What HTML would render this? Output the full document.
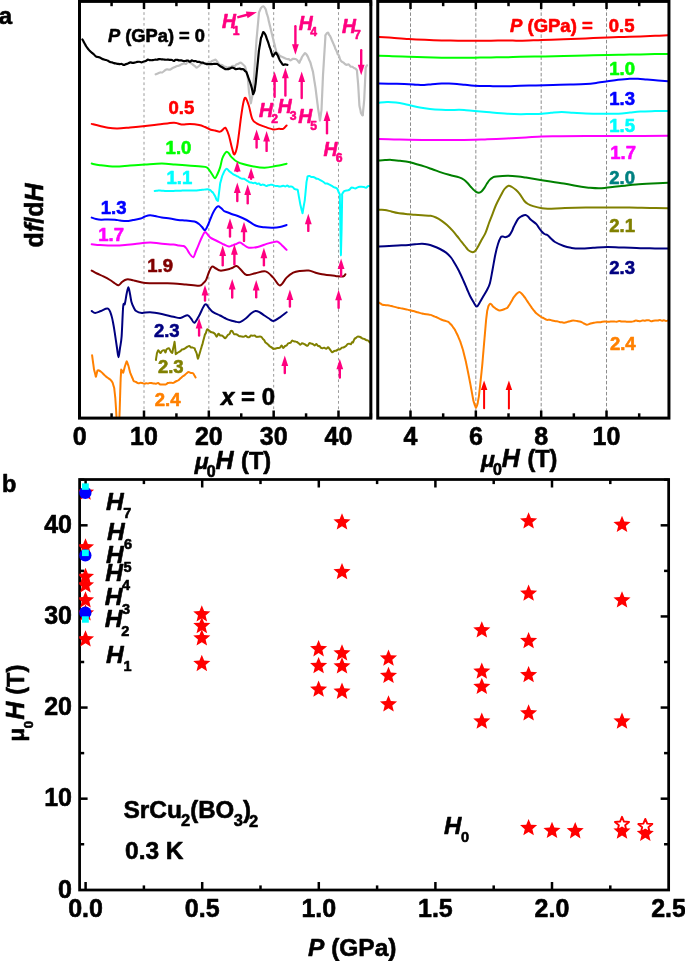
<!DOCTYPE html>
<html><head><meta charset="utf-8"><style>
html,body{margin:0;padding:0;background:#fff;overflow:hidden}
svg{display:block;font-family:"Liberation Sans",sans-serif;will-change:transform}
</style></head><body>
<svg width="685" height="961" viewBox="0 0 685 961">
<line x1="144.0" y1="1.4" x2="144.0" y2="418.1" stroke="#9a9a9a" stroke-width="1.0" stroke-dasharray="2.7 2.7"/>
<line x1="208.82999999999998" y1="1.4" x2="208.82999999999998" y2="418.1" stroke="#9a9a9a" stroke-width="1.0" stroke-dasharray="2.7 2.7"/>
<line x1="273.65999999999997" y1="1.4" x2="273.65999999999997" y2="418.1" stroke="#9a9a9a" stroke-width="1.0" stroke-dasharray="2.7 2.7"/>
<line x1="338.49" y1="1.4" x2="338.49" y2="418.1" stroke="#9a9a9a" stroke-width="1.0" stroke-dasharray="2.7 2.7"/>
<line x1="111.58500000000001" y1="418.1" x2="111.58500000000001" y2="413.3" stroke="#000" stroke-width="2.5" />
<line x1="111.58500000000001" y1="1.4" x2="111.58500000000001" y2="6.199999999999999" stroke="#000" stroke-width="2.5" />
<line x1="144.0" y1="418.1" x2="144.0" y2="410.5" stroke="#000" stroke-width="2.5" />
<line x1="144.0" y1="1.4" x2="144.0" y2="9.0" stroke="#000" stroke-width="2.5" />
<line x1="176.415" y1="418.1" x2="176.415" y2="413.3" stroke="#000" stroke-width="2.5" />
<line x1="176.415" y1="1.4" x2="176.415" y2="6.199999999999999" stroke="#000" stroke-width="2.5" />
<line x1="208.82999999999998" y1="418.1" x2="208.82999999999998" y2="410.5" stroke="#000" stroke-width="2.5" />
<line x1="208.82999999999998" y1="1.4" x2="208.82999999999998" y2="9.0" stroke="#000" stroke-width="2.5" />
<line x1="241.245" y1="418.1" x2="241.245" y2="413.3" stroke="#000" stroke-width="2.5" />
<line x1="241.245" y1="1.4" x2="241.245" y2="6.199999999999999" stroke="#000" stroke-width="2.5" />
<line x1="273.65999999999997" y1="418.1" x2="273.65999999999997" y2="410.5" stroke="#000" stroke-width="2.5" />
<line x1="273.65999999999997" y1="1.4" x2="273.65999999999997" y2="9.0" stroke="#000" stroke-width="2.5" />
<line x1="306.075" y1="418.1" x2="306.075" y2="413.3" stroke="#000" stroke-width="2.5" />
<line x1="306.075" y1="1.4" x2="306.075" y2="6.199999999999999" stroke="#000" stroke-width="2.5" />
<line x1="338.49" y1="418.1" x2="338.49" y2="410.5" stroke="#000" stroke-width="2.5" />
<line x1="338.49" y1="1.4" x2="338.49" y2="9.0" stroke="#000" stroke-width="2.5" />
<line x1="370.905" y1="418.1" x2="370.905" y2="413.3" stroke="#000" stroke-width="2.5" />
<line x1="370.905" y1="1.4" x2="370.905" y2="6.199999999999999" stroke="#000" stroke-width="2.5" />
<line x1="410.5" y1="1.4" x2="410.5" y2="418.1" stroke="#8c8c8c" stroke-width="1" stroke-dasharray="3.5 2"/>
<line x1="475.84000000000003" y1="1.4" x2="475.84000000000003" y2="418.1" stroke="#8c8c8c" stroke-width="1" stroke-dasharray="3.5 2"/>
<line x1="541.1800000000001" y1="1.4" x2="541.1800000000001" y2="418.1" stroke="#8c8c8c" stroke-width="1" stroke-dasharray="3.5 2"/>
<line x1="606.52" y1="1.4" x2="606.52" y2="418.1" stroke="#8c8c8c" stroke-width="1" stroke-dasharray="3.5 2"/>
<line x1="410.5" y1="418.1" x2="410.5" y2="410.5" stroke="#000" stroke-width="2.5" />
<line x1="410.5" y1="1.4" x2="410.5" y2="9.0" stroke="#000" stroke-width="2.5" />
<line x1="443.17" y1="418.1" x2="443.17" y2="413.3" stroke="#000" stroke-width="2.5" />
<line x1="443.17" y1="1.4" x2="443.17" y2="6.199999999999999" stroke="#000" stroke-width="2.5" />
<line x1="475.84000000000003" y1="418.1" x2="475.84000000000003" y2="410.5" stroke="#000" stroke-width="2.5" />
<line x1="475.84000000000003" y1="1.4" x2="475.84000000000003" y2="9.0" stroke="#000" stroke-width="2.5" />
<line x1="508.51" y1="418.1" x2="508.51" y2="413.3" stroke="#000" stroke-width="2.5" />
<line x1="508.51" y1="1.4" x2="508.51" y2="6.199999999999999" stroke="#000" stroke-width="2.5" />
<line x1="541.1800000000001" y1="418.1" x2="541.1800000000001" y2="410.5" stroke="#000" stroke-width="2.5" />
<line x1="541.1800000000001" y1="1.4" x2="541.1800000000001" y2="9.0" stroke="#000" stroke-width="2.5" />
<line x1="573.85" y1="418.1" x2="573.85" y2="413.3" stroke="#000" stroke-width="2.5" />
<line x1="573.85" y1="1.4" x2="573.85" y2="6.199999999999999" stroke="#000" stroke-width="2.5" />
<line x1="606.52" y1="418.1" x2="606.52" y2="410.5" stroke="#000" stroke-width="2.5" />
<line x1="606.52" y1="1.4" x2="606.52" y2="9.0" stroke="#000" stroke-width="2.5" />
<line x1="639.19" y1="418.1" x2="639.19" y2="413.3" stroke="#000" stroke-width="2.5" />
<line x1="639.19" y1="1.4" x2="639.19" y2="6.199999999999999" stroke="#000" stroke-width="2.5" />
<line x1="85.6" y1="890.0" x2="85.6" y2="882.0" stroke="#000" stroke-width="2.5" />
<line x1="85.6" y1="479.5" x2="85.6" y2="487.5" stroke="#000" stroke-width="2.5" />
<line x1="143.89999999999998" y1="890.0" x2="143.89999999999998" y2="885.4" stroke="#000" stroke-width="2.5" />
<line x1="143.89999999999998" y1="479.5" x2="143.89999999999998" y2="484.1" stroke="#000" stroke-width="2.5" />
<line x1="202.2" y1="890.0" x2="202.2" y2="882.0" stroke="#000" stroke-width="2.5" />
<line x1="202.2" y1="479.5" x2="202.2" y2="487.5" stroke="#000" stroke-width="2.5" />
<line x1="260.5" y1="890.0" x2="260.5" y2="885.4" stroke="#000" stroke-width="2.5" />
<line x1="260.5" y1="479.5" x2="260.5" y2="484.1" stroke="#000" stroke-width="2.5" />
<line x1="318.79999999999995" y1="890.0" x2="318.79999999999995" y2="882.0" stroke="#000" stroke-width="2.5" />
<line x1="318.79999999999995" y1="479.5" x2="318.79999999999995" y2="487.5" stroke="#000" stroke-width="2.5" />
<line x1="377.1" y1="890.0" x2="377.1" y2="885.4" stroke="#000" stroke-width="2.5" />
<line x1="377.1" y1="479.5" x2="377.1" y2="484.1" stroke="#000" stroke-width="2.5" />
<line x1="435.4" y1="890.0" x2="435.4" y2="882.0" stroke="#000" stroke-width="2.5" />
<line x1="435.4" y1="479.5" x2="435.4" y2="487.5" stroke="#000" stroke-width="2.5" />
<line x1="493.69999999999993" y1="890.0" x2="493.69999999999993" y2="885.4" stroke="#000" stroke-width="2.5" />
<line x1="493.69999999999993" y1="479.5" x2="493.69999999999993" y2="484.1" stroke="#000" stroke-width="2.5" />
<line x1="552.0" y1="890.0" x2="552.0" y2="882.0" stroke="#000" stroke-width="2.5" />
<line x1="552.0" y1="479.5" x2="552.0" y2="487.5" stroke="#000" stroke-width="2.5" />
<line x1="610.3" y1="890.0" x2="610.3" y2="885.4" stroke="#000" stroke-width="2.5" />
<line x1="610.3" y1="479.5" x2="610.3" y2="484.1" stroke="#000" stroke-width="2.5" />
<line x1="79.6" y1="844.24" x2="84.19999999999999" y2="844.24" stroke="#000" stroke-width="2.5" />
<line x1="668.65" y1="844.24" x2="664.05" y2="844.24" stroke="#000" stroke-width="2.5" />
<line x1="79.6" y1="798.68" x2="87.6" y2="798.68" stroke="#000" stroke-width="2.5" />
<line x1="668.65" y1="798.68" x2="660.65" y2="798.68" stroke="#000" stroke-width="2.5" />
<line x1="79.6" y1="753.1199999999999" x2="84.19999999999999" y2="753.1199999999999" stroke="#000" stroke-width="2.5" />
<line x1="668.65" y1="753.1199999999999" x2="664.05" y2="753.1199999999999" stroke="#000" stroke-width="2.5" />
<line x1="79.6" y1="707.56" x2="87.6" y2="707.56" stroke="#000" stroke-width="2.5" />
<line x1="668.65" y1="707.56" x2="660.65" y2="707.56" stroke="#000" stroke-width="2.5" />
<line x1="79.6" y1="662.0" x2="84.19999999999999" y2="662.0" stroke="#000" stroke-width="2.5" />
<line x1="668.65" y1="662.0" x2="664.05" y2="662.0" stroke="#000" stroke-width="2.5" />
<line x1="79.6" y1="616.4399999999999" x2="87.6" y2="616.4399999999999" stroke="#000" stroke-width="2.5" />
<line x1="668.65" y1="616.4399999999999" x2="660.65" y2="616.4399999999999" stroke="#000" stroke-width="2.5" />
<line x1="79.6" y1="570.8799999999999" x2="84.19999999999999" y2="570.8799999999999" stroke="#000" stroke-width="2.5" />
<line x1="668.65" y1="570.8799999999999" x2="664.05" y2="570.8799999999999" stroke="#000" stroke-width="2.5" />
<line x1="79.6" y1="525.3199999999999" x2="87.6" y2="525.3199999999999" stroke="#000" stroke-width="2.5" />
<line x1="668.65" y1="525.3199999999999" x2="660.65" y2="525.3199999999999" stroke="#000" stroke-width="2.5" />
<line x1="79.6" y1="479.75999999999993" x2="84.19999999999999" y2="479.75999999999993" stroke="#000" stroke-width="2.5" />
<line x1="668.65" y1="479.75999999999993" x2="664.05" y2="479.75999999999993" stroke="#000" stroke-width="2.5" />
<defs><clipPath id="cal"><rect x="79.5" y="1.4" width="291.35" height="416.7"/></clipPath><clipPath id="car"><rect x="377.75" y="1.4" width="291.2" height="416.7"/></clipPath></defs>
<g clip-path="url(#cal)">
<path d="M155.70,74.30 C156.06,74.16 157.13,73.76 157.85,73.46 C158.57,73.16 159.26,72.67 160.00,72.50 C160.74,72.33 161.53,72.71 162.30,72.41 C163.07,72.11 163.93,71.19 164.60,70.70 C165.27,70.21 165.73,69.69 166.30,69.49 C166.87,69.29 167.39,69.47 168.00,69.50 C168.61,69.53 169.30,69.84 169.95,69.67 C170.60,69.51 171.06,68.95 171.90,68.50 C172.74,68.05 174.13,67.40 175.00,67.00 C175.87,66.60 176.40,66.33 177.10,66.08 C177.80,65.83 178.45,65.79 179.20,65.50 C179.95,65.21 180.80,64.66 181.60,64.33 C182.40,64.00 183.27,63.57 184.00,63.50 C184.73,63.43 185.33,64.20 186.00,63.93 C186.67,63.67 187.25,62.06 188.00,61.90 C188.75,61.74 189.78,62.63 190.50,63.00 C191.22,63.37 191.76,63.70 192.30,64.10 C192.84,64.50 193.28,64.99 193.77,65.39 C194.26,65.78 194.74,66.09 195.23,66.48 C195.72,66.86 196.07,67.78 196.70,67.70 C197.33,67.62 198.27,66.60 199.00,66.00 C199.73,65.40 200.27,64.52 201.10,64.10 C201.93,63.68 203.15,63.59 204.00,63.50 C204.85,63.41 205.47,63.70 206.20,63.55 C206.93,63.40 207.73,62.77 208.40,62.60 C209.07,62.43 209.60,62.79 210.20,62.52 C210.80,62.25 211.39,61.37 212.00,61.00 C212.61,60.63 213.23,60.55 213.85,60.33 C214.47,60.11 215.09,59.42 215.70,59.70 C216.31,59.98 216.99,61.34 217.50,62.00 C218.01,62.66 218.33,63.21 218.75,63.67 C219.17,64.14 219.46,64.58 220.00,64.80 C220.54,65.02 221.33,64.74 222.00,65.02 C222.67,65.31 223.38,66.19 224.00,66.50 C224.62,66.81 225.13,66.66 225.70,66.86 C226.27,67.06 226.82,67.67 227.40,67.70 C227.98,67.73 228.60,67.17 229.20,67.05 C229.80,66.93 230.39,67.22 231.00,67.00 C231.61,66.78 232.23,65.85 232.85,65.73 C233.47,65.62 234.12,66.54 234.70,66.30 C235.28,66.06 235.80,64.67 236.35,64.28 C236.90,63.90 237.31,64.28 238.00,64.00 C238.69,63.72 239.75,62.60 240.50,62.60 C241.25,62.60 241.77,63.38 242.50,64.00 C243.23,64.62 244.41,65.65 244.90,66.30 C245.39,66.95 245.26,67.27 245.43,67.89 C245.61,68.52 245.79,69.37 245.97,70.05 C246.14,70.74 246.34,71.35 246.50,72.00 C246.66,72.65 246.79,73.32 246.93,73.97 C247.08,74.63 247.22,75.28 247.37,75.95 C247.51,76.62 247.70,77.32 247.80,78.00 C247.90,78.68 247.91,79.35 247.97,80.00 C248.03,80.66 248.09,81.25 248.14,81.92 C248.20,82.59 248.26,83.31 248.31,84.00 C248.37,84.68 248.43,85.34 248.49,86.01 C248.54,86.69 248.60,87.39 248.66,88.04 C248.71,88.70 248.77,89.29 248.83,89.95 C248.89,90.61 248.92,91.35 249.00,92.00 C249.08,92.65 249.20,93.27 249.30,93.87 C249.40,94.48 249.50,94.98 249.60,95.62 C249.70,96.25 249.80,97.06 249.90,97.70 C250.00,98.33 250.10,98.81 250.20,99.43 C250.30,100.05 250.40,100.75 250.50,101.43 C250.60,102.11 250.68,103.48 250.80,103.50 C250.92,103.52 251.08,102.28 251.23,101.53 C251.37,100.77 251.51,99.66 251.65,98.95 C251.79,98.23 251.93,97.89 252.07,97.23 C252.22,96.58 252.40,95.67 252.50,95.00 C252.60,94.33 252.60,93.82 252.65,93.22 C252.70,92.62 252.75,91.98 252.80,91.38 C252.85,90.78 252.90,90.22 252.95,89.63 C253.00,89.03 253.05,88.42 253.10,87.83 C253.15,87.24 253.20,86.67 253.25,86.06 C253.30,85.45 253.35,84.80 253.40,84.19 C253.45,83.57 253.50,82.97 253.55,82.37 C253.60,81.76 253.65,81.17 253.70,80.56 C253.75,79.96 253.80,79.34 253.85,78.74 C253.90,78.15 253.95,77.60 254.00,77.00 C254.05,76.40 254.08,75.77 254.12,75.15 C254.17,74.53 254.21,73.87 254.25,73.26 C254.29,72.66 254.33,72.13 254.38,71.50 C254.42,70.88 254.46,70.15 254.50,69.51 C254.54,68.88 254.58,68.31 254.62,67.70 C254.67,67.09 254.71,66.48 254.75,65.86 C254.79,65.23 254.83,64.55 254.88,63.95 C254.92,63.36 254.96,62.91 255.00,62.29 C255.04,61.67 255.08,60.87 255.12,60.24 C255.17,59.60 255.21,59.09 255.25,58.49 C255.29,57.88 255.33,57.23 255.38,56.63 C255.42,56.02 255.46,55.51 255.50,54.88 C255.54,54.25 255.58,53.48 255.62,52.86 C255.67,52.24 255.71,51.76 255.75,51.15 C255.79,50.54 255.83,49.84 255.88,49.22 C255.92,48.59 255.96,48.01 256.00,47.39 C256.04,46.78 256.08,46.13 256.12,45.52 C256.17,44.91 256.21,44.35 256.25,43.73 C256.29,43.11 256.33,42.42 256.38,41.80 C256.42,41.17 256.45,40.60 256.50,40.00 C256.55,39.40 256.61,38.77 256.67,38.17 C256.72,37.56 256.78,36.96 256.83,36.37 C256.89,35.78 256.94,35.28 257.00,34.64 C257.06,34.00 257.11,33.15 257.17,32.54 C257.22,31.93 257.28,31.54 257.33,30.96 C257.39,30.39 257.44,29.73 257.50,29.10 C257.56,28.47 257.61,27.80 257.67,27.18 C257.72,26.57 257.78,26.01 257.83,25.41 C257.89,24.80 257.94,24.13 258.00,23.53 C258.06,22.94 258.11,22.44 258.17,21.84 C258.22,21.24 258.28,20.55 258.33,19.92 C258.39,19.29 258.44,18.68 258.50,18.07 C258.56,17.45 258.61,16.85 258.67,16.24 C258.72,15.63 258.78,15.02 258.83,14.41 C258.89,13.81 258.81,13.29 259.00,12.60 C259.19,11.91 259.67,11.02 260.00,10.25 C260.33,9.48 260.45,8.66 261.00,8.00 C261.55,7.34 262.55,6.13 263.30,6.30 C264.05,6.47 265.03,8.25 265.50,9.00 C265.97,9.75 265.90,10.09 266.10,10.82 C266.30,11.56 266.50,12.72 266.70,13.41 C266.90,14.11 267.12,14.48 267.30,15.00 C267.48,15.52 267.60,16.00 267.75,16.51 C267.90,17.03 268.05,17.40 268.20,18.06 C268.35,18.73 268.50,19.77 268.65,20.48 C268.80,21.19 268.95,21.68 269.10,22.31 C269.25,22.93 269.40,23.61 269.55,24.23 C269.70,24.84 269.85,25.39 270.00,26.00 C270.15,26.61 270.31,27.27 270.47,27.92 C270.62,28.56 270.78,29.21 270.93,29.88 C271.09,30.54 271.24,31.22 271.40,31.90 C271.56,32.58 271.71,33.33 271.87,33.96 C272.02,34.59 272.18,35.05 272.33,35.68 C272.49,36.30 272.64,37.06 272.80,37.70 C272.96,38.34 273.12,38.83 273.28,39.51 C273.43,40.19 273.59,41.13 273.75,41.78 C273.91,42.43 274.07,42.87 274.23,43.42 C274.38,43.96 274.54,44.35 274.70,45.03 C274.86,45.71 275.02,46.80 275.18,47.47 C275.33,48.15 275.49,48.54 275.65,49.08 C275.81,49.62 275.97,50.12 276.12,50.72 C276.28,51.33 276.24,52.19 276.60,52.70 C276.96,53.21 277.73,53.21 278.30,53.76 C278.87,54.31 279.23,55.43 280.00,56.00 C280.77,56.57 282.07,56.82 282.90,57.20 C283.72,57.58 284.27,57.99 284.95,58.29 C285.63,58.59 286.38,58.86 287.00,59.00 C287.62,59.14 288.13,58.89 288.70,59.11 C289.27,59.32 289.70,60.33 290.40,60.30 C291.10,60.27 292.07,59.15 292.90,58.93 C293.73,58.72 294.67,58.78 295.40,59.00 C296.13,59.22 296.67,59.63 297.30,60.26 C297.93,60.89 298.73,62.72 299.20,62.80 C299.67,62.88 299.82,61.30 300.13,60.71 C300.44,60.12 300.76,59.89 301.07,59.27 C301.38,58.65 301.59,57.73 302.00,57.00 C302.41,56.27 303.00,55.55 303.50,54.91 C304.00,54.28 304.50,53.27 305.00,53.20 C305.50,53.13 306.00,53.84 306.50,54.47 C307.00,55.10 307.61,56.23 308.00,57.00 C308.39,57.77 308.56,58.47 308.83,59.12 C309.11,59.77 309.39,60.27 309.67,60.88 C309.94,61.50 310.28,62.15 310.50,62.80 C310.72,63.45 310.83,64.14 311.00,64.79 C311.17,65.45 311.33,66.12 311.50,66.70 C311.67,67.28 311.83,67.72 312.00,68.29 C312.17,68.86 312.33,69.51 312.50,70.13 C312.67,70.75 312.86,71.36 313.00,72.00 C313.14,72.64 313.21,73.34 313.31,73.98 C313.42,74.62 313.52,75.18 313.62,75.85 C313.73,76.53 313.83,77.33 313.94,78.04 C314.04,78.74 314.15,79.45 314.25,80.10 C314.35,80.75 314.46,81.32 314.56,81.96 C314.67,82.59 314.77,83.24 314.88,83.90 C314.98,84.55 315.08,85.22 315.19,85.88 C315.29,86.55 315.41,87.27 315.50,87.90 C315.59,88.53 315.65,89.06 315.73,89.66 C315.80,90.26 315.88,90.87 315.95,91.49 C316.03,92.10 316.11,92.74 316.18,93.35 C316.26,93.96 316.33,94.53 316.41,95.14 C316.48,95.74 316.56,96.40 316.64,97.00 C316.71,97.60 316.79,98.11 316.86,98.73 C316.94,99.35 317.02,100.09 317.09,100.72 C317.17,101.35 317.24,101.93 317.32,102.52 C317.39,103.11 317.47,103.67 317.55,104.25 C317.62,104.82 317.70,105.35 317.77,105.97 C317.85,106.60 317.91,107.36 318.00,108.00 C318.09,108.64 318.19,109.17 318.29,109.78 C318.38,110.40 318.48,111.11 318.57,111.69 C318.67,112.28 318.76,112.71 318.86,113.28 C318.95,113.84 319.05,114.49 319.14,115.09 C319.24,115.69 319.33,116.25 319.43,116.87 C319.52,117.48 319.62,118.18 319.71,118.79 C319.81,119.39 319.90,120.58 320.00,120.50 C320.10,120.42 320.20,118.99 320.30,118.31 C320.40,117.63 320.50,117.09 320.60,116.40 C320.70,115.71 320.80,114.87 320.90,114.17 C321.00,113.47 321.10,112.89 321.20,112.19 C321.30,111.50 321.44,110.67 321.50,110.00 C321.56,109.33 321.55,108.78 321.58,108.17 C321.61,107.56 321.63,106.96 321.66,106.34 C321.68,105.72 321.71,105.09 321.74,104.48 C321.76,103.87 321.79,103.28 321.82,102.67 C321.84,102.07 321.87,101.46 321.89,100.86 C321.92,100.26 321.95,99.67 321.97,99.06 C322.00,98.46 322.03,97.84 322.05,97.22 C322.08,96.61 322.11,95.98 322.13,95.37 C322.16,94.76 322.18,94.18 322.21,93.58 C322.24,92.98 322.26,92.38 322.29,91.77 C322.32,91.16 322.34,90.52 322.37,89.91 C322.39,89.29 322.42,88.68 322.45,88.07 C322.47,87.46 322.50,86.85 322.53,86.25 C322.55,85.64 322.58,85.06 322.61,84.46 C322.63,83.85 322.66,83.24 322.68,82.62 C322.71,82.00 322.74,81.36 322.76,80.75 C322.79,80.14 322.82,79.57 322.84,78.96 C322.87,78.36 322.89,77.72 322.92,77.11 C322.95,76.50 322.97,75.91 323.00,75.30 C323.03,74.69 323.08,74.04 323.11,73.44 C323.15,72.84 323.19,72.30 323.23,71.70 C323.27,71.10 323.30,70.48 323.34,69.85 C323.38,69.23 323.42,68.57 323.45,67.96 C323.49,67.34 323.53,66.77 323.57,66.17 C323.61,65.57 323.64,64.97 323.68,64.36 C323.72,63.74 323.76,63.09 323.80,62.48 C323.83,61.87 323.87,61.28 323.91,60.68 C323.95,60.08 323.98,59.50 324.02,58.88 C324.06,58.26 324.10,57.56 324.14,56.95 C324.17,56.34 324.21,55.81 324.25,55.21 C324.29,54.62 324.33,54.01 324.36,53.40 C324.40,52.80 324.44,52.19 324.48,51.57 C324.52,50.94 324.55,50.27 324.59,49.66 C324.63,49.05 324.67,48.51 324.70,47.90 C324.74,47.30 324.78,46.63 324.82,46.03 C324.86,45.42 324.89,44.86 324.93,44.26 C324.97,43.66 325.01,43.05 325.05,42.44 C325.08,41.82 325.12,41.21 325.16,40.59 C325.20,39.97 325.23,39.34 325.27,38.72 C325.31,38.11 325.35,37.51 325.39,36.90 C325.42,36.30 325.06,35.82 325.50,35.10 C325.94,34.38 327.42,32.67 328.00,32.60 C328.58,32.53 328.67,34.14 329.00,34.69 C329.33,35.24 329.67,35.34 330.00,35.89 C330.33,36.45 330.67,37.23 331.00,38.00 C331.33,38.77 331.67,39.70 332.00,40.49 C332.33,41.27 332.70,42.00 333.00,42.70 C333.30,43.40 333.53,44.09 333.80,44.70 C334.07,45.31 334.33,45.64 334.60,46.34 C334.87,47.05 335.13,48.31 335.40,48.94 C335.67,49.58 335.93,49.65 336.20,50.16 C336.47,50.67 336.75,51.32 337.00,52.00 C337.25,52.68 337.48,53.80 337.72,54.26 C337.96,54.72 338.20,54.41 338.44,54.76 C338.68,55.11 338.92,55.66 339.16,56.36 C339.40,57.05 339.64,58.26 339.88,58.91 C340.12,59.57 340.24,59.81 340.60,60.30 C340.96,60.79 341.58,61.49 342.07,61.87 C342.56,62.26 343.04,62.25 343.53,62.60 C344.02,62.95 344.44,63.63 345.00,64.00 C345.56,64.37 346.24,64.72 346.87,64.80 C347.49,64.87 348.11,64.17 348.73,64.45 C349.36,64.73 350.01,66.10 350.60,66.50 C351.19,66.90 351.73,66.60 352.30,66.85 C352.87,67.10 353.48,67.71 354.00,68.00 C354.52,68.29 354.97,68.20 355.45,68.58 C355.93,68.97 356.63,69.71 356.90,70.30 C357.17,70.89 357.01,71.50 357.06,72.12 C357.12,72.75 357.17,73.41 357.22,74.03 C357.28,74.64 357.33,75.21 357.39,75.82 C357.44,76.42 357.50,77.07 357.55,77.67 C357.60,78.28 357.66,78.84 357.71,79.44 C357.77,80.05 357.82,80.68 357.88,81.30 C357.93,81.92 357.98,82.55 358.04,83.17 C358.09,83.79 358.15,84.39 358.20,85.00 C358.25,85.61 358.27,86.22 358.31,86.84 C358.35,87.47 358.38,88.15 358.42,88.76 C358.45,89.38 358.49,89.91 358.53,90.53 C358.56,91.15 358.60,91.88 358.64,92.50 C358.67,93.11 358.71,93.62 358.75,94.23 C358.78,94.84 358.82,95.55 358.85,96.17 C358.89,96.79 358.93,97.33 358.96,97.95 C359.00,98.57 359.04,99.28 359.07,99.90 C359.11,100.53 359.15,101.09 359.18,101.70 C359.22,102.31 359.25,102.94 359.29,103.56 C359.33,104.18 359.32,104.76 359.40,105.40 C359.48,106.04 359.67,106.79 359.80,107.41 C359.93,108.03 360.07,108.52 360.20,109.11 C360.33,109.70 360.47,110.30 360.60,110.95 C360.73,111.60 360.65,112.24 361.00,113.00 C361.35,113.76 362.39,115.43 362.70,115.50 C363.01,115.57 362.82,114.06 362.89,113.43 C362.95,112.79 363.01,112.34 363.07,111.71 C363.14,111.08 363.20,110.31 363.26,109.64 C363.32,108.97 363.39,108.35 363.45,107.71 C363.51,107.07 363.57,106.43 363.64,105.81 C363.70,105.19 363.76,104.67 363.82,104.01 C363.89,103.34 363.95,102.49 364.01,101.82 C364.07,101.15 364.15,100.62 364.20,100.00 C364.25,99.38 364.26,98.75 364.29,98.11 C364.32,97.48 364.35,96.83 364.38,96.20 C364.41,95.57 364.44,94.97 364.46,94.33 C364.49,93.70 364.52,93.00 364.55,92.36 C364.58,91.73 364.61,91.13 364.64,90.52 C364.67,89.90 364.70,89.28 364.73,88.66 C364.76,88.04 364.79,87.42 364.82,86.79 C364.85,86.16 364.88,85.54 364.91,84.90 C364.94,84.25 364.96,83.56 364.99,82.93 C365.02,82.29 365.05,81.69 365.08,81.06 C365.11,80.43 365.14,79.80 365.17,79.16 C365.20,78.52 365.23,77.86 365.26,77.23 C365.29,76.59 365.32,75.95 365.35,75.33 C365.38,74.71 365.41,74.13 365.44,73.51 C365.46,72.88 365.49,72.23 365.52,71.60 C365.55,70.96 365.58,70.32 365.61,69.69 C365.64,69.06 365.47,68.53 365.70,67.80 C365.93,67.07 366.78,65.72 367.00,65.30" fill="none" stroke="#c0c0c0" stroke-width="2.2" stroke-linejoin="round" stroke-linecap="round" />
<path d="M82.40,39.40 C82.55,39.68 83.00,40.49 83.30,41.06 C83.60,41.63 83.90,42.28 84.20,42.81 C84.50,43.34 84.80,43.71 85.10,44.24 C85.40,44.77 85.63,45.41 86.00,46.00 C86.37,46.59 86.89,47.17 87.33,47.78 C87.78,48.38 88.22,49.09 88.67,49.62 C89.11,50.16 89.44,50.45 90.00,51.00 C90.56,51.55 91.33,52.32 92.00,52.90 C92.67,53.49 93.36,53.92 94.00,54.50 C94.64,55.08 95.23,55.98 95.85,56.40 C96.47,56.81 97.04,56.83 97.70,57.00 C98.36,57.17 99.10,57.14 99.80,57.42 C100.50,57.70 101.20,58.35 101.90,58.70 C102.60,59.04 103.32,59.28 104.00,59.50 C104.68,59.72 105.33,59.79 106.00,60.01 C106.67,60.23 107.33,60.47 108.00,60.81 C108.67,61.14 109.33,61.73 110.00,62.00 C110.67,62.27 111.33,62.23 112.00,62.41 C112.67,62.60 113.33,62.93 114.00,63.11 C114.67,63.29 115.34,63.37 116.00,63.50 C116.66,63.63 117.29,63.78 117.93,63.88 C118.58,63.97 119.22,64.07 119.87,64.09 C120.51,64.11 121.13,63.86 121.80,64.00 C122.47,64.14 123.18,64.93 123.87,64.95 C124.56,64.96 125.24,64.34 125.93,64.10 C126.62,63.86 127.27,63.79 128.00,63.50 C128.73,63.21 129.56,62.47 130.33,62.38 C131.11,62.28 131.89,62.91 132.67,62.93 C133.44,62.95 134.25,62.67 135.00,62.50 C135.75,62.33 136.45,62.07 137.18,61.94 C137.90,61.81 138.62,61.67 139.35,61.74 C140.07,61.82 140.80,62.44 141.52,62.40 C142.25,62.36 142.99,61.74 143.70,61.50 C144.41,61.26 145.10,61.26 145.80,60.96 C146.50,60.65 147.20,59.80 147.90,59.68 C148.60,59.55 149.26,60.11 150.00,60.20 C150.74,60.29 151.56,60.27 152.33,60.19 C153.11,60.11 153.89,59.80 154.67,59.72 C155.44,59.64 156.29,59.80 157.00,59.70 C157.71,59.60 158.27,59.19 158.90,59.11 C159.53,59.04 160.17,59.19 160.80,59.24 C161.43,59.29 162.07,59.31 162.70,59.39 C163.33,59.46 163.97,59.64 164.60,59.70 C165.22,59.76 165.83,59.77 166.45,59.76 C167.07,59.75 167.68,59.60 168.30,59.64 C168.92,59.67 169.53,59.90 170.15,59.96 C170.77,60.02 171.39,59.82 172.00,60.00 C172.61,60.18 173.20,61.05 173.80,61.02 C174.40,60.98 175.00,59.99 175.60,59.80 C176.20,59.61 176.80,59.80 177.40,59.90 C178.00,60.00 178.52,60.31 179.20,60.40 C179.88,60.49 180.71,60.27 181.47,60.41 C182.22,60.54 182.98,61.15 183.73,61.21 C184.49,61.28 185.30,60.91 186.00,60.80 C186.70,60.69 187.30,60.39 187.95,60.55 C188.60,60.70 189.25,61.73 189.90,61.72 C190.55,61.70 191.20,60.53 191.85,60.45 C192.50,60.36 193.17,61.10 193.80,61.20 C194.43,61.30 195.02,60.93 195.62,61.04 C196.23,61.16 196.84,61.74 197.45,61.87 C198.06,62.00 198.67,61.70 199.28,61.83 C199.88,61.95 200.49,62.46 201.10,62.60 C201.71,62.74 202.32,62.51 202.93,62.67 C203.53,62.83 204.14,63.34 204.75,63.57 C205.36,63.81 205.97,63.99 206.57,64.08 C207.18,64.17 207.71,64.10 208.40,64.10 C209.09,64.10 209.93,64.12 210.70,64.11 C211.47,64.09 212.27,64.03 213.00,64.00 C213.73,63.97 214.40,63.90 215.10,63.91 C215.80,63.93 216.38,63.75 217.20,64.10 C218.02,64.45 219.03,65.40 220.00,66.00 C220.97,66.60 222.13,67.19 223.00,67.70 C223.87,68.21 224.47,68.84 225.20,69.09 C225.93,69.34 226.67,69.27 227.40,69.20 C228.13,69.13 228.87,68.89 229.60,68.64 C230.33,68.39 231.11,67.81 231.80,67.70 C232.49,67.59 233.09,67.75 233.73,67.98 C234.38,68.22 235.02,68.94 235.67,69.09 C236.31,69.25 236.96,68.99 237.60,68.90 C238.24,68.81 238.89,68.50 239.53,68.55 C240.18,68.60 240.82,69.07 241.47,69.18 C242.11,69.29 242.83,68.92 243.40,69.20 C243.97,69.48 244.40,70.40 244.90,70.89 C245.40,71.37 246.03,71.57 246.40,72.10 C246.77,72.63 246.87,73.43 247.10,74.06 C247.33,74.70 247.57,75.28 247.80,75.94 C248.03,76.59 248.26,77.31 248.50,78.00 C248.74,78.69 249.00,79.39 249.25,80.06 C249.50,80.73 249.75,81.27 250.00,82.00 C250.25,82.73 250.50,83.59 250.75,84.42 C251.00,85.26 251.30,86.29 251.50,87.00 C251.70,87.71 251.78,88.13 251.93,88.71 C252.07,89.28 252.21,89.80 252.35,90.43 C252.49,91.06 252.63,91.87 252.77,92.48 C252.92,93.09 252.91,94.35 253.20,94.10 C253.49,93.85 254.23,91.86 254.50,91.00 C254.77,90.14 254.70,89.60 254.80,88.93 C254.90,88.27 255.00,87.70 255.10,87.03 C255.20,86.37 255.30,85.64 255.40,84.95 C255.50,84.26 255.62,83.58 255.70,82.90 C255.78,82.22 255.83,81.56 255.90,80.90 C255.97,80.24 256.03,79.61 256.10,78.96 C256.17,78.30 256.23,77.61 256.30,76.95 C256.37,76.28 256.43,75.63 256.50,74.95 C256.57,74.27 256.63,73.55 256.70,72.89 C256.77,72.22 256.83,71.61 256.90,70.97 C256.97,70.33 257.03,69.68 257.10,69.02 C257.17,68.36 257.23,67.68 257.30,67.01 C257.37,66.34 257.44,65.64 257.50,65.00 C257.56,64.36 257.62,63.80 257.69,63.20 C257.75,62.60 257.81,62.00 257.88,61.38 C257.94,60.75 258.00,60.08 258.06,59.47 C258.12,58.86 258.19,58.33 258.25,57.70 C258.31,57.07 258.38,56.31 258.44,55.67 C258.50,55.04 258.56,54.51 258.62,53.89 C258.69,53.26 258.75,52.54 258.81,51.92 C258.88,51.31 258.91,50.81 259.00,50.20 C259.09,49.59 259.22,48.91 259.33,48.23 C259.44,47.56 259.56,46.81 259.67,46.14 C259.78,45.47 259.89,44.92 260.00,44.24 C260.11,43.55 260.22,42.76 260.33,42.04 C260.44,41.31 260.56,40.54 260.67,39.87 C260.78,39.20 260.82,38.60 261.00,38.00 C261.18,37.40 261.51,36.96 261.77,36.27 C262.02,35.57 262.28,34.52 262.53,33.82 C262.79,33.13 262.99,32.21 263.30,32.10 C263.61,31.99 264.03,32.68 264.40,33.17 C264.77,33.65 265.19,34.34 265.50,35.00 C265.81,35.66 266.01,36.37 266.27,37.10 C266.52,37.83 266.78,38.66 267.03,39.37 C267.29,40.09 267.55,40.71 267.80,41.40 C268.05,42.09 268.29,42.78 268.53,43.52 C268.78,44.26 269.02,45.08 269.27,45.83 C269.51,46.58 269.76,47.33 270.00,48.00 C270.24,48.67 270.47,49.08 270.70,49.83 C270.93,50.58 271.17,51.77 271.40,52.52 C271.63,53.28 271.87,53.70 272.10,54.36 C272.33,55.03 272.40,56.56 272.80,56.50 C273.20,56.44 273.97,54.63 274.50,54.00 C275.03,53.37 275.58,52.64 276.00,52.70 C276.42,52.76 276.67,53.83 277.00,54.38 C277.33,54.93 277.68,55.35 278.00,56.00 C278.32,56.65 278.60,57.55 278.90,58.26 C279.20,58.98 279.48,59.70 279.80,60.30 C280.12,60.90 280.49,61.34 280.83,61.85 C281.18,62.36 281.52,62.86 281.87,63.36 C282.21,63.85 282.35,64.64 282.90,64.80 C283.45,64.96 284.40,64.34 285.15,64.34 C285.90,64.34 287.02,64.72 287.40,64.80" fill="none" stroke="#000" stroke-width="2.2" stroke-linejoin="round" stroke-linecap="round" />
<path d="M91.70,123.90 C93.08,124.25 97.28,125.35 100.00,126.00 C102.72,126.65 105.10,127.38 108.00,127.80 C110.90,128.22 113.73,128.55 117.40,128.50 C121.07,128.45 125.73,127.88 130.00,127.50 C134.27,127.12 138.33,126.70 143.00,126.20 C147.67,125.70 152.93,125.08 158.00,124.50 C163.07,123.92 170.07,122.87 173.40,122.70 C176.73,122.53 176.43,123.18 178.00,123.50 C179.57,123.82 180.80,124.52 182.80,124.60 C184.80,124.68 187.28,123.93 190.00,124.00 C192.72,124.07 196.60,124.50 199.10,125.00 C201.60,125.50 203.05,126.22 205.00,127.00 C206.95,127.78 209.13,129.12 210.80,129.70 C212.47,130.28 213.43,130.18 215.00,130.50 C216.57,130.82 218.63,131.98 220.20,131.60 C221.77,131.22 223.43,128.72 224.40,128.20 C225.37,127.68 225.25,127.28 226.00,128.50 C226.75,129.72 227.87,132.12 228.90,135.50 C229.93,138.88 231.28,145.67 232.20,148.80 C233.12,151.93 233.55,154.85 234.40,154.30 C235.25,153.75 236.18,151.78 237.30,145.50 C238.42,139.22 240.07,123.85 241.10,116.60 C242.13,109.35 242.77,105.13 243.50,102.00 C244.23,98.87 244.62,97.22 245.50,97.80 C246.38,98.38 247.68,102.00 248.80,105.50 C249.92,109.00 250.90,115.83 252.20,118.80 C253.50,121.77 254.57,122.00 256.60,123.30 C258.63,124.60 261.63,125.57 264.40,126.60 C267.17,127.63 270.80,129.13 273.20,129.50 C275.60,129.87 277.13,128.92 278.80,128.80 C280.47,128.68 281.90,129.35 283.20,128.80 C284.50,128.25 286.03,126.05 286.60,125.50" fill="none" stroke="#ff0000" stroke-width="2" stroke-linejoin="round" stroke-linecap="round" />
<path d="M91.70,163.60 C93.08,163.87 96.12,164.70 100.00,165.20 C103.88,165.70 110.00,166.55 115.00,166.60 C120.00,166.65 125.00,165.85 130.00,165.50 C135.00,165.15 139.70,164.82 145.00,164.50 C150.30,164.18 156.80,163.60 161.80,163.60 C166.80,163.60 171.12,164.23 175.00,164.50 C178.88,164.77 181.77,164.95 185.10,165.20 C188.43,165.45 191.50,165.68 195.00,166.00 C198.50,166.32 203.67,166.33 206.10,167.10 C208.53,167.87 208.53,169.28 209.60,170.60 C210.67,171.92 211.60,173.72 212.50,175.00 C213.40,176.28 214.17,178.47 215.00,178.30 C215.83,178.13 216.63,175.87 217.50,174.00 C218.37,172.13 219.42,169.63 220.20,167.10 C220.98,164.57 221.48,160.98 222.20,158.80 C222.92,156.62 223.75,155.18 224.50,154.00 C225.25,152.82 225.95,151.78 226.70,151.70 C227.45,151.62 228.27,152.68 229.00,153.50 C229.73,154.32 229.63,155.17 231.10,156.60 C232.57,158.03 234.47,160.55 237.80,162.10 C241.13,163.65 246.67,164.97 251.10,165.90 C255.53,166.83 260.33,167.67 264.40,167.70 C268.47,167.73 271.80,166.77 275.50,166.10 C279.20,165.43 284.75,164.10 286.60,163.70" fill="none" stroke="#00ff00" stroke-width="2" stroke-linejoin="round" stroke-linecap="round" />
<path d="M154.70,190.90 C155.14,190.87 156.47,190.77 157.35,190.70 C158.23,190.63 159.14,190.49 160.00,190.50 C160.86,190.51 161.67,190.67 162.50,190.75 C163.33,190.83 164.23,190.96 165.00,191.00 C165.77,191.04 166.40,190.98 167.10,190.97 C167.80,190.97 168.50,190.96 169.20,190.95 C169.90,190.94 170.60,190.93 171.30,190.93 C172.00,190.92 172.73,190.92 173.40,190.90 C174.07,190.88 174.69,190.86 175.33,190.83 C175.98,190.81 176.62,190.79 177.27,190.77 C177.91,190.74 178.56,190.72 179.20,190.70 C179.84,190.68 180.49,190.66 181.13,190.63 C181.78,190.61 182.42,190.59 183.07,190.57 C183.71,190.54 184.35,190.51 185.00,190.50 C185.65,190.49 186.31,190.49 186.97,190.48 C187.62,190.48 188.28,190.47 188.93,190.47 C189.59,190.46 190.24,190.46 190.90,190.45 C191.56,190.44 192.21,190.44 192.87,190.43 C193.52,190.43 194.18,190.42 194.83,190.42 C195.49,190.41 196.12,190.44 196.80,190.40 C197.48,190.36 198.20,190.25 198.90,190.18 C199.60,190.11 200.30,190.03 201.00,189.96 C201.70,189.89 202.40,189.81 203.10,189.74 C203.80,189.67 204.50,189.59 205.20,189.52 C205.90,189.45 206.50,189.22 207.30,189.30 C208.10,189.38 209.29,189.65 210.00,190.00 C210.71,190.35 211.03,190.93 211.55,191.40 C212.07,191.87 212.68,192.30 213.10,192.80 C213.52,193.30 213.73,193.87 214.05,194.40 C214.37,194.93 214.70,195.40 215.00,196.00 C215.30,196.60 215.57,197.33 215.85,198.00 C216.13,198.67 216.34,199.50 216.70,200.00 C217.06,200.50 217.74,201.16 218.00,201.00 C218.26,200.84 218.16,199.70 218.24,199.04 C218.33,198.39 218.41,197.74 218.49,197.09 C218.57,196.44 218.65,195.79 218.73,195.13 C218.81,194.48 218.90,193.83 218.98,193.18 C219.06,192.53 219.14,191.87 219.22,191.22 C219.30,190.57 219.39,189.92 219.47,189.27 C219.55,188.61 219.63,187.96 219.71,187.31 C219.79,186.66 219.87,186.01 219.96,185.36 C220.04,184.70 220.08,184.03 220.20,183.40 C220.32,182.77 220.53,182.17 220.70,181.55 C220.87,180.93 221.03,180.32 221.20,179.70 C221.37,179.08 221.53,178.47 221.70,177.85 C221.87,177.23 221.99,176.59 222.20,176.00 C222.41,175.41 222.71,174.89 222.97,174.33 C223.22,173.78 223.48,173.22 223.73,172.67 C223.99,172.11 224.01,171.64 224.50,171.00 C224.99,170.36 225.95,168.80 226.70,168.80 C227.45,168.80 228.38,170.45 229.00,171.00 C229.62,171.55 229.96,171.73 230.43,172.10 C230.91,172.47 231.39,172.83 231.87,173.20 C232.34,173.57 232.76,173.97 233.30,174.30 C233.84,174.63 234.49,174.90 235.08,175.20 C235.67,175.50 236.27,175.80 236.86,176.10 C237.45,176.40 238.05,176.66 238.64,177.00 C239.23,177.34 239.83,177.82 240.42,178.12 C241.01,178.42 241.59,178.70 242.20,178.80 C242.80,178.90 243.43,178.52 244.05,178.70 C244.67,178.89 245.28,179.52 245.90,179.91 C246.52,180.29 247.13,180.62 247.75,181.03 C248.37,181.45 248.98,182.18 249.60,182.42 C250.22,182.66 250.83,182.34 251.45,182.47 C252.07,182.60 252.68,183.16 253.30,183.20 C253.92,183.24 254.53,182.56 255.15,182.68 C255.77,182.81 256.38,183.82 257.00,183.95 C257.62,184.09 258.23,183.33 258.85,183.51 C259.47,183.68 260.08,184.83 260.70,185.01 C261.32,185.18 261.93,184.57 262.55,184.57 C263.17,184.57 263.77,184.76 264.40,185.00 C265.02,185.24 265.67,185.99 266.30,186.02 C266.93,186.05 267.57,185.38 268.20,185.19 C268.83,185.00 269.47,184.94 270.10,184.87 C270.73,184.81 271.37,184.68 272.00,184.78 C272.63,184.88 273.27,185.26 273.90,185.46 C274.53,185.66 275.17,185.92 275.80,185.99 C276.43,186.07 277.07,185.80 277.70,185.90 C278.33,186.00 278.97,186.53 279.60,186.58 C280.23,186.63 280.87,186.34 281.50,186.20 C282.13,186.07 282.77,185.74 283.40,185.79 C284.03,185.84 284.67,186.52 285.30,186.49 C285.93,186.46 286.57,185.58 287.20,185.61 C287.83,185.64 288.47,186.52 289.10,186.67 C289.73,186.81 290.40,186.45 291.00,186.50 C291.60,186.55 292.12,186.60 292.68,186.99 C293.23,187.38 293.79,188.42 294.35,188.82 C294.91,189.23 295.47,189.26 296.02,189.42 C296.58,189.58 297.37,189.43 297.70,189.80 C298.03,190.17 297.92,191.06 298.02,191.66 C298.13,192.25 298.24,192.75 298.35,193.36 C298.46,193.97 298.57,194.69 298.68,195.32 C298.78,195.95 298.89,196.54 299.00,197.13 C299.11,197.72 299.22,198.28 299.32,198.88 C299.43,199.47 299.54,200.06 299.65,200.70 C299.76,201.33 299.87,202.07 299.98,202.69 C300.08,203.30 300.17,203.83 300.30,204.40 C300.43,204.97 300.59,205.53 300.74,206.13 C300.89,206.73 301.03,207.38 301.18,208.01 C301.33,208.64 301.47,209.35 301.62,209.91 C301.77,210.46 301.91,210.78 302.06,211.34 C302.21,211.91 302.37,213.26 302.50,213.30 C302.63,213.34 302.72,212.17 302.83,211.55 C302.94,210.93 303.05,210.25 303.16,209.59 C303.27,208.92 303.38,208.21 303.49,207.54 C303.60,206.88 303.70,206.26 303.81,205.62 C303.92,204.98 304.03,204.30 304.14,203.70 C304.25,203.09 304.36,202.60 304.47,201.98 C304.58,201.36 304.71,200.68 304.80,200.00 C304.89,199.32 304.93,198.55 304.99,197.90 C305.05,197.25 305.11,196.73 305.18,196.09 C305.24,195.45 305.30,194.75 305.37,194.07 C305.43,193.40 305.49,192.72 305.56,192.06 C305.62,191.39 305.68,190.74 305.74,190.09 C305.81,189.43 305.87,188.77 305.93,188.12 C306.00,187.46 306.06,186.79 306.12,186.14 C306.19,185.50 306.25,184.88 306.31,184.22 C306.37,183.56 306.41,182.87 306.50,182.20 C306.59,181.53 306.74,180.84 306.87,180.22 C306.99,179.60 307.11,179.12 307.23,178.50 C307.36,177.88 307.22,176.92 307.60,176.50 C307.98,176.08 308.88,175.92 309.50,176.00 C310.12,176.08 310.73,176.81 311.35,176.98 C311.97,177.14 312.62,176.89 313.20,177.00 C313.78,177.11 314.30,177.32 314.85,177.61 C315.40,177.90 315.95,178.51 316.50,178.73 C317.05,178.95 317.60,178.73 318.15,178.93 C318.70,179.12 319.22,179.58 319.80,179.90 C320.38,180.22 321.03,180.50 321.65,180.84 C322.27,181.18 322.88,181.51 323.50,181.96 C324.12,182.40 324.73,183.25 325.35,183.52 C325.97,183.78 326.58,183.39 327.20,183.54 C327.82,183.69 328.43,184.11 329.05,184.42 C329.67,184.73 330.31,185.07 330.90,185.40 C331.49,185.73 332.02,186.09 332.57,186.41 C333.13,186.73 333.69,187.07 334.25,187.32 C334.81,187.58 335.37,187.59 335.93,187.94 C336.48,188.28 337.14,188.68 337.60,189.40 C338.06,190.12 338.33,191.42 338.70,192.23 C339.07,193.05 339.61,193.64 339.80,194.30 C339.99,194.96 339.82,195.55 339.83,196.17 C339.84,196.80 339.85,197.43 339.86,198.05 C339.87,198.68 339.88,199.30 339.89,199.93 C339.91,200.56 339.92,201.19 339.93,201.82 C339.94,202.45 339.95,203.09 339.96,203.72 C339.97,204.35 339.98,204.98 339.99,205.60 C340.00,206.22 340.01,206.84 340.02,207.46 C340.03,208.08 340.04,208.71 340.05,209.33 C340.06,209.96 340.07,210.59 340.08,211.21 C340.09,211.83 340.11,212.45 340.12,213.08 C340.13,213.71 340.14,214.35 340.15,214.97 C340.16,215.60 340.17,216.22 340.18,216.85 C340.19,217.47 340.20,218.12 340.21,218.74 C340.22,219.37 340.23,219.98 340.24,220.60 C340.25,221.22 340.26,221.85 340.27,222.48 C340.28,223.10 340.29,223.72 340.31,224.35 C340.32,224.97 340.33,225.60 340.34,226.23 C340.35,226.86 340.36,227.50 340.37,228.13 C340.38,228.76 340.39,229.38 340.40,230.00 C340.41,230.62 340.42,231.21 340.44,231.82 C340.45,232.42 340.46,233.02 340.47,233.62 C340.48,234.22 340.50,234.82 340.51,235.43 C340.52,236.03 340.53,236.65 340.54,237.26 C340.55,237.87 340.57,238.46 340.58,239.07 C340.59,239.67 340.60,240.28 340.61,240.89 C340.63,241.49 340.64,242.10 340.65,242.70 C340.66,243.30 340.67,243.90 340.69,244.51 C340.70,245.11 340.71,245.71 340.72,246.31 C340.73,246.92 340.75,247.54 340.76,248.14 C340.77,248.75 340.78,249.35 340.79,249.96 C340.80,250.56 340.82,251.17 340.83,251.77 C340.84,252.38 340.85,252.99 340.86,253.60 C340.88,254.20 340.89,255.40 340.90,255.40 C340.91,255.40 340.93,254.20 340.95,253.60 C340.97,252.99 340.98,252.37 341.00,251.76 C341.02,251.16 341.03,250.57 341.05,249.97 C341.07,249.36 341.08,248.72 341.10,248.11 C341.12,247.51 341.13,246.94 341.15,246.34 C341.17,245.74 341.18,245.12 341.20,244.51 C341.22,243.91 341.23,243.32 341.25,242.71 C341.27,242.11 341.28,241.51 341.30,240.90 C341.32,240.29 341.33,239.67 341.35,239.06 C341.37,238.45 341.38,237.86 341.40,237.26 C341.42,236.66 341.43,236.06 341.45,235.46 C341.47,234.85 341.48,234.23 341.50,233.62 C341.52,233.01 341.53,232.42 341.55,231.82 C341.57,231.21 341.59,230.60 341.60,230.00 C341.61,229.40 341.62,228.79 341.63,228.19 C341.64,227.60 341.65,227.00 341.66,226.40 C341.67,225.81 341.68,225.20 341.69,224.60 C341.70,224.00 341.71,223.40 341.72,222.79 C341.73,222.19 341.74,221.59 341.75,220.99 C341.76,220.39 341.77,219.78 341.78,219.18 C341.79,218.58 341.80,218.00 341.81,217.41 C341.82,216.81 341.83,216.20 341.84,215.60 C341.85,214.99 341.86,214.39 341.87,213.79 C341.88,213.19 341.89,212.60 341.90,212.00 C341.91,211.40 341.92,210.79 341.93,210.19 C341.94,209.59 341.95,209.00 341.96,208.41 C341.97,207.81 341.98,207.21 341.99,206.61 C342.00,206.00 342.01,205.38 342.02,204.78 C342.03,204.18 342.04,203.60 342.05,203.00 C342.06,202.40 342.07,201.80 342.08,201.20 C342.09,200.60 342.10,200.00 342.11,199.40 C342.12,198.80 342.13,198.20 342.14,197.60 C342.15,197.00 342.16,196.41 342.17,195.81 C342.18,195.21 341.84,194.79 342.20,194.00 C342.56,193.21 343.66,191.67 344.30,191.10 C344.94,190.53 345.47,190.72 346.06,190.59 C346.65,190.47 347.23,190.51 347.82,190.35 C348.41,190.18 348.99,190.04 349.58,189.60 C350.17,189.17 350.75,188.05 351.34,187.74 C351.93,187.44 352.44,187.69 353.10,187.80 C353.76,187.91 354.58,188.49 355.33,188.42 C356.07,188.34 356.81,187.62 357.55,187.36 C358.29,187.09 359.03,186.94 359.77,186.83 C360.52,186.72 361.30,186.66 362.00,186.70 C362.70,186.74 363.33,186.91 364.00,187.09 C364.67,187.26 365.33,187.91 366.00,187.76 C366.67,187.60 367.33,186.44 368.00,186.18 C368.67,185.92 369.33,186.14 370.00,186.20 C370.67,186.25 371.67,186.45 372.00,186.50" fill="none" stroke="#00ffff" stroke-width="2" stroke-linejoin="round" stroke-linecap="round" />
<path d="M91.70,217.60 C92.42,217.83 94.45,218.65 96.00,219.00 C97.55,219.35 99.00,219.62 101.00,219.70 C103.00,219.78 105.67,219.50 108.00,219.50 C110.33,219.50 113.00,219.53 115.00,219.70 C117.00,219.87 118.05,220.27 120.00,220.50 C121.95,220.73 124.53,221.18 126.70,221.10 C128.87,221.02 130.67,220.43 133.00,220.00 C135.33,219.57 138.70,219.08 140.70,218.50 C142.70,217.92 143.45,217.05 145.00,216.50 C146.55,215.95 148.33,215.28 150.00,215.20 C151.67,215.12 153.03,215.60 155.00,216.00 C156.97,216.40 159.30,217.18 161.80,217.60 C164.30,218.02 167.28,218.12 170.00,218.50 C172.72,218.88 175.43,219.57 178.10,219.90 C180.77,220.23 183.27,220.23 186.00,220.50 C188.73,220.77 192.33,220.92 194.50,221.50 C196.67,222.08 197.75,223.08 199.00,224.00 C200.25,224.92 201.00,225.97 202.00,227.00 C203.00,228.03 204.00,230.53 205.00,230.20 C206.00,229.87 207.03,227.03 208.00,225.00 C208.97,222.97 209.80,220.33 210.80,218.00 C211.80,215.67 212.83,212.93 214.00,211.00 C215.17,209.07 216.63,206.90 217.80,206.40 C218.97,205.90 219.97,207.23 221.00,208.00 C222.03,208.77 222.97,210.30 224.00,211.00 C225.03,211.70 225.70,211.62 227.20,212.20 C228.70,212.78 231.23,213.87 233.00,214.50 C234.77,215.13 235.53,215.08 237.80,216.00 C240.07,216.92 243.65,218.42 246.60,220.00 C249.55,221.58 252.53,224.28 255.50,225.50 C258.47,226.72 261.45,226.93 264.40,227.30 C267.35,227.67 270.62,227.75 273.20,227.70 C275.78,227.65 277.67,227.45 279.90,227.00 C282.13,226.55 285.48,225.33 286.60,225.00" fill="none" stroke="#0000ff" stroke-width="2" stroke-linejoin="round" stroke-linecap="round" />
<path d="M91.70,244.20 C93.08,244.33 97.28,244.78 100.00,245.00 C102.72,245.22 105.50,245.40 108.00,245.50 C110.50,245.60 112.17,245.68 115.00,245.60 C117.83,245.52 121.67,245.27 125.00,245.00 C128.33,244.73 130.83,244.40 135.00,244.00 C139.17,243.60 145.83,242.68 150.00,242.60 C154.17,242.52 156.10,243.17 160.00,243.50 C163.90,243.83 170.23,244.27 173.40,244.60 C176.57,244.93 177.28,245.27 179.00,245.50 C180.72,245.73 182.45,245.50 183.70,246.00 C184.95,246.50 185.53,247.25 186.50,248.50 C187.47,249.75 188.37,252.05 189.50,253.50 C190.63,254.95 192.22,257.62 193.30,257.20 C194.38,256.78 195.03,253.25 196.00,251.00 C196.97,248.75 198.10,246.03 199.10,243.70 C200.10,241.37 201.02,238.95 202.00,237.00 C202.98,235.05 204.00,232.33 205.00,232.00 C206.00,231.67 207.03,234.02 208.00,235.00 C208.97,235.98 209.63,237.07 210.80,237.90 C211.97,238.73 213.43,239.22 215.00,240.00 C216.57,240.78 218.70,241.85 220.20,242.60 C221.70,243.35 222.55,243.83 224.00,244.50 C225.45,245.17 227.57,246.43 228.90,246.60 C230.23,246.77 230.90,245.88 232.00,245.50 C233.10,245.12 234.17,244.78 235.50,244.30 C236.83,243.82 238.58,242.48 240.00,242.60 C241.42,242.72 242.53,244.15 244.00,245.00 C245.47,245.85 246.52,247.37 248.80,247.70 C251.08,248.03 254.73,247.63 257.70,247.00 C260.67,246.37 264.22,244.65 266.60,243.90 C268.98,243.15 270.15,242.87 272.00,242.50 C273.85,242.13 276.02,241.20 277.70,241.70 C279.38,242.20 280.62,244.13 282.10,245.50 C283.58,246.87 285.85,249.17 286.60,249.90" fill="none" stroke="#ff00ff" stroke-width="2" stroke-linejoin="round" stroke-linecap="round" />
<path d="M91.70,270.60 C92.58,271.08 95.05,272.53 97.00,273.50 C98.95,274.47 101.23,275.32 103.40,276.40 C105.57,277.48 108.07,278.82 110.00,280.00 C111.93,281.18 113.58,282.62 115.00,283.50 C116.42,284.38 117.33,285.55 118.50,285.30 C119.67,285.05 120.92,282.88 122.00,282.00 C123.08,281.12 124.02,280.47 125.00,280.00 C125.98,279.53 126.73,279.20 127.90,279.20 C129.07,279.20 130.63,279.68 132.00,280.00 C133.37,280.32 133.87,280.60 136.10,281.10 C138.33,281.60 141.42,282.63 145.40,283.00 C149.38,283.37 155.33,283.23 160.00,283.30 C164.67,283.37 169.07,283.20 173.40,283.40 C177.73,283.60 181.72,284.10 186.00,284.50 C190.28,284.90 196.27,285.97 199.10,285.80 C201.93,285.63 201.83,284.48 203.00,283.50 C204.17,282.52 205.10,281.82 206.10,279.90 C207.10,277.98 208.02,274.22 209.00,272.00 C209.98,269.78 210.83,267.18 212.00,266.60 C213.17,266.02 214.63,267.83 216.00,268.50 C217.37,269.17 218.70,270.35 220.20,270.60 C221.70,270.85 223.45,270.27 225.00,270.00 C226.55,269.73 228.33,269.33 229.50,269.00 C230.67,268.67 230.82,268.48 232.00,268.00 C233.18,267.52 235.08,265.78 236.60,266.10 C238.12,266.42 239.43,268.42 241.10,269.90 C242.77,271.38 244.20,274.45 246.60,275.00 C249.00,275.55 252.35,273.80 255.50,273.20 C258.65,272.60 262.55,270.67 265.50,271.40 C268.45,272.13 270.80,275.27 273.20,277.60 C275.60,279.93 277.67,285.40 279.90,285.40 C282.13,285.40 284.38,279.72 286.60,277.60 C288.82,275.48 290.97,273.80 293.20,272.70 C295.43,271.60 297.42,271.37 300.00,271.00 C302.58,270.63 306.20,270.25 308.70,270.50 C311.20,270.75 312.77,271.87 315.00,272.50 C317.23,273.13 318.70,273.73 322.10,274.30 C325.50,274.87 331.90,275.53 335.40,275.90 C338.90,276.27 341.43,276.77 343.10,276.50 C344.77,276.23 345.02,274.67 345.40,274.30" fill="none" stroke="#800000" stroke-width="2" stroke-linejoin="round" stroke-linecap="round" />
<path d="M91.70,311.00 C92.28,311.32 93.65,312.90 95.20,312.90 C96.75,312.90 98.87,311.70 101.00,311.00 C103.13,310.30 106.25,307.92 108.00,308.70 C109.75,309.48 110.58,312.98 111.50,315.70 C112.42,318.42 112.92,321.90 113.50,325.00 C114.08,328.10 114.42,330.47 115.00,334.30 C115.58,338.13 116.42,344.18 117.00,348.00 C117.58,351.82 118.00,357.20 118.50,357.20 C119.00,357.20 119.48,351.42 120.00,348.00 C120.52,344.58 121.07,343.65 121.60,336.70 C122.13,329.75 122.67,311.75 123.20,306.30 C123.73,300.85 124.22,306.13 124.80,304.00 C125.38,301.87 126.10,296.28 126.70,293.50 C127.30,290.72 127.85,287.22 128.40,287.30 C128.95,287.38 129.50,291.60 130.00,294.00 C130.50,296.40 130.82,299.53 131.40,301.70 C131.98,303.87 132.72,305.45 133.50,307.00 C134.28,308.55 134.70,310.02 136.10,311.00 C137.50,311.98 139.57,312.70 141.90,312.90 C144.23,313.10 146.78,312.02 150.10,312.20 C153.42,312.38 157.92,313.23 161.80,314.00 C165.68,314.77 170.30,316.13 173.40,316.80 C176.50,317.47 178.05,318.27 180.40,318.00 C182.75,317.73 185.73,315.12 187.50,315.20 C189.27,315.28 189.83,317.25 191.00,318.50 C192.17,319.75 193.15,323.17 194.50,322.70 C195.85,322.23 197.35,318.73 199.10,315.70 C200.85,312.67 203.35,305.78 205.00,304.50 C206.65,303.22 207.65,306.72 209.00,308.00 C210.35,309.28 211.27,310.95 213.10,312.20 C214.93,313.45 218.05,314.53 220.00,315.50 C221.95,316.47 223.32,317.27 224.80,318.00 C226.28,318.73 227.20,319.32 228.90,319.90 C230.60,320.48 233.15,321.13 235.00,321.50 C236.85,321.87 238.07,322.73 240.00,322.10 C241.93,321.47 244.77,319.13 246.60,317.70 C248.43,316.27 249.52,314.62 251.00,313.50 C252.48,312.38 254.00,311.17 255.50,311.00 C257.00,310.83 258.52,311.75 260.00,312.50 C261.48,313.25 262.90,314.50 264.40,315.50 C265.90,316.50 267.53,317.58 269.00,318.50 C270.47,319.42 271.38,321.20 273.20,321.00 C275.02,320.80 277.67,318.77 279.90,317.30 C282.13,315.83 285.48,313.05 286.60,312.20" fill="none" stroke="#000080" stroke-width="2" stroke-linejoin="round" stroke-linecap="round" />
<path d="M155.90,360.00 C155.95,359.68 156.08,358.70 156.18,358.09 C156.27,357.48 156.36,356.88 156.45,356.34 C156.54,355.80 156.63,355.40 156.72,354.84 C156.82,354.29 156.74,353.77 157.00,353.00 C157.26,352.23 157.88,350.37 158.30,350.20 C158.72,350.03 159.12,351.53 159.50,352.00 C159.88,352.47 160.18,353.17 160.60,353.00 C161.02,352.83 161.42,351.47 162.00,351.00 C162.58,350.53 163.52,349.95 164.10,350.20 C164.68,350.45 165.14,352.54 165.50,352.50 C165.86,352.46 166.00,350.52 166.25,349.94 C166.50,349.35 166.57,349.27 167.00,349.00 C167.43,348.73 168.30,348.13 168.80,348.30 C169.30,348.47 169.63,349.38 170.00,350.00 C170.37,350.62 170.62,351.50 171.00,352.00 C171.38,352.50 172.02,353.17 172.30,353.00 C172.58,352.83 172.57,351.71 172.70,350.97 C172.83,350.24 172.97,349.26 173.10,348.60 C173.23,347.94 173.37,347.52 173.50,347.00 C173.63,346.48 173.74,346.04 173.87,345.47 C173.99,344.90 174.11,344.18 174.23,343.57 C174.36,342.96 174.51,341.73 174.60,341.80 C174.69,341.87 174.73,343.30 174.80,343.98 C174.87,344.67 174.93,345.22 175.00,345.89 C175.07,346.56 175.13,347.30 175.20,348.00 C175.27,348.70 175.33,349.42 175.40,350.10 C175.47,350.79 175.53,351.43 175.60,352.11 C175.67,352.79 175.40,354.13 175.80,354.20 C176.20,354.27 177.23,353.02 178.00,352.50 C178.77,351.98 179.70,351.60 180.40,351.10 C181.10,350.60 181.60,349.83 182.20,349.48 C182.80,349.13 183.41,349.25 184.00,349.00 C184.59,348.75 185.17,348.34 185.75,347.96 C186.33,347.58 186.92,347.03 187.50,346.70 C188.08,346.37 188.67,345.86 189.25,346.00 C189.83,346.13 190.42,347.23 191.00,347.50 C191.58,347.77 192.17,347.46 192.75,347.59 C193.33,347.72 194.10,347.88 194.50,348.30 C194.90,348.72 194.94,349.59 195.17,350.11 C195.39,350.64 195.61,350.97 195.83,351.45 C196.06,351.93 196.31,352.44 196.50,353.00 C196.69,353.56 196.83,354.11 197.00,354.84 C197.17,355.57 197.33,356.70 197.50,357.36 C197.67,358.02 197.83,358.82 198.00,358.80 C198.17,358.78 198.33,357.78 198.50,357.22 C198.67,356.66 198.83,355.98 199.00,355.44 C199.17,354.91 199.33,354.52 199.50,354.00 C199.67,353.48 199.83,352.93 200.00,352.34 C200.17,351.75 200.33,351.06 200.50,350.47 C200.67,349.88 200.83,349.35 201.00,348.80 C201.17,348.26 201.33,347.78 201.50,347.20 C201.67,346.62 201.83,345.83 202.00,345.32 C202.17,344.80 202.33,344.67 202.50,344.09 C202.67,343.50 202.83,342.49 203.00,341.81 C203.17,341.12 203.33,340.61 203.50,340.00 C203.67,339.39 203.83,338.75 204.00,338.14 C204.17,337.53 204.33,336.99 204.50,336.35 C204.67,335.71 204.79,334.80 205.00,334.30 C205.21,333.80 205.51,333.93 205.77,333.35 C206.02,332.77 206.28,331.51 206.53,330.82 C206.79,330.13 206.89,329.25 207.30,329.20 C207.71,329.15 208.42,330.03 209.00,330.50 C209.58,330.97 210.15,331.67 210.80,332.00 C211.45,332.33 212.20,332.16 212.90,332.49 C213.60,332.83 214.36,333.31 215.00,334.00 C215.64,334.69 216.16,336.68 216.73,336.64 C217.31,336.60 217.89,333.93 218.47,333.74 C219.04,333.55 219.64,335.21 220.20,335.50 C220.76,335.79 221.28,335.26 221.82,335.45 C222.37,335.64 222.91,336.16 223.45,336.64 C223.99,337.13 224.53,338.36 225.07,338.35 C225.62,338.34 226.20,337.21 226.70,336.60 C227.20,335.99 227.63,335.11 228.10,334.67 C228.57,334.24 229.04,334.61 229.50,334.00 C229.96,333.39 230.40,331.54 230.85,331.04 C231.30,330.54 231.79,330.68 232.20,331.00 C232.61,331.32 232.93,332.43 233.30,332.98 C233.67,333.53 233.96,334.08 234.40,334.30 C234.84,334.52 235.44,334.21 235.96,334.31 C236.48,334.41 237.00,334.59 237.52,334.89 C238.04,335.18 238.56,335.84 239.08,336.08 C239.60,336.32 240.12,336.25 240.64,336.33 C241.16,336.42 241.64,336.55 242.20,336.60 C242.76,336.65 243.39,336.78 243.98,336.64 C244.57,336.50 245.17,335.70 245.76,335.77 C246.35,335.85 246.95,336.88 247.54,337.09 C248.13,337.31 248.73,337.33 249.32,337.06 C249.91,336.80 250.51,335.72 251.10,335.50 C251.69,335.28 252.27,335.74 252.86,335.75 C253.45,335.75 254.03,335.36 254.62,335.54 C255.21,335.71 255.79,336.60 256.38,336.81 C256.97,337.03 257.55,336.84 258.14,336.81 C258.73,336.77 259.35,336.56 259.90,336.60 C260.45,336.64 260.93,336.66 261.45,337.06 C261.97,337.46 262.54,338.49 263.00,339.00 C263.46,339.51 263.80,339.56 264.20,340.13 C264.60,340.70 265.00,341.90 265.40,342.41 C265.80,342.93 266.12,342.80 266.60,343.20 C267.08,343.60 267.73,344.24 268.30,344.79 C268.87,345.34 269.45,346.06 270.00,346.50 C270.55,346.94 271.07,347.03 271.60,347.41 C272.13,347.79 272.65,348.58 273.20,348.80 C273.75,349.02 274.32,348.81 274.88,348.71 C275.43,348.62 275.99,348.34 276.55,348.22 C277.11,348.10 277.67,348.06 278.22,347.97 C278.78,347.89 279.34,348.12 279.90,347.70 C280.46,347.28 281.02,345.43 281.57,345.48 C282.13,345.54 282.69,347.93 283.25,348.04 C283.81,348.15 284.37,346.58 284.93,346.14 C285.48,345.70 286.08,345.83 286.60,345.40 C287.12,344.97 287.57,343.99 288.05,343.59 C288.53,343.19 289.04,343.19 289.50,343.00 C289.96,342.81 290.37,342.85 290.80,342.45 C291.23,342.05 291.61,340.79 292.10,340.60 C292.59,340.41 293.19,341.18 293.73,341.33 C294.28,341.49 294.82,341.44 295.37,341.55 C295.91,341.66 296.44,341.71 297.00,342.00 C297.56,342.29 298.13,342.85 298.70,343.32 C299.27,343.78 299.83,344.80 300.40,344.78 C300.97,344.76 301.51,343.35 302.10,343.20 C302.69,343.05 303.33,343.58 303.95,343.88 C304.57,344.18 305.18,344.69 305.80,344.99 C306.42,345.29 307.03,346.01 307.65,345.68 C308.27,345.35 308.88,343.36 309.50,343.02 C310.12,342.68 310.73,343.43 311.35,343.65 C311.97,343.86 312.62,343.99 313.20,344.30 C313.77,344.61 314.27,345.58 314.80,345.53 C315.33,345.47 315.87,343.91 316.40,343.98 C316.93,344.06 317.47,345.63 318.00,346.00 C318.53,346.37 319.05,345.86 319.57,346.19 C320.10,346.52 320.62,347.64 321.15,347.97 C321.67,348.30 322.20,348.23 322.73,348.18 C323.25,348.14 323.72,347.60 324.30,347.70 C324.88,347.80 325.57,348.87 326.20,348.80 C326.83,348.73 327.47,347.16 328.10,347.27 C328.73,347.39 329.32,348.67 330.00,349.50 C330.68,350.33 331.43,352.00 332.15,352.25 C332.87,352.50 333.63,351.26 334.30,351.00 C334.97,350.74 335.53,350.96 336.15,350.71 C336.77,350.46 337.36,349.75 338.00,349.50 C338.64,349.25 339.33,349.53 340.00,349.23 C340.67,348.93 341.33,348.03 342.00,347.70 C342.67,347.37 343.33,347.54 344.00,347.26 C344.67,346.98 345.39,346.55 346.00,346.00 C346.61,345.45 347.09,344.37 347.63,343.97 C348.18,343.58 348.72,343.59 349.27,343.65 C349.81,343.70 350.46,344.54 350.90,344.30 C351.34,344.06 351.59,342.54 351.93,342.23 C352.28,341.92 352.62,342.81 352.97,342.44 C353.31,342.07 353.63,340.69 354.00,340.00 C354.37,339.31 354.80,338.73 355.20,338.32 C355.60,337.92 356.00,337.86 356.40,337.57 C356.80,337.29 357.12,336.72 357.60,336.60 C358.08,336.48 358.73,336.68 359.30,336.83 C359.87,336.98 360.45,337.20 361.00,337.50 C361.55,337.80 362.07,338.41 362.60,338.63 C363.13,338.84 363.62,338.56 364.20,338.80 C364.78,339.04 365.47,339.78 366.10,340.06 C366.73,340.34 367.44,340.17 368.00,340.50 C368.56,340.83 368.97,341.58 369.45,342.03 C369.93,342.48 370.66,343.00 370.90,343.20" fill="none" stroke="#808000" stroke-width="2" stroke-linejoin="round" stroke-linecap="round" />
<path d="M92.10,355.30 C92.15,355.67 92.30,356.79 92.40,357.53 C92.50,358.28 92.60,359.02 92.70,359.77 C92.80,360.51 92.91,361.32 93.00,362.00 C93.09,362.68 93.17,363.22 93.25,363.82 C93.33,364.43 93.42,365.04 93.50,365.65 C93.58,366.26 93.67,366.87 93.75,367.48 C93.83,368.08 93.88,368.68 94.00,369.30 C94.12,369.92 94.32,370.55 94.47,371.18 C94.63,371.80 94.79,372.43 94.95,373.05 C95.11,373.68 95.27,374.30 95.43,374.93 C95.58,375.55 95.73,376.84 95.90,376.80 C96.07,376.76 96.26,375.40 96.43,374.70 C96.61,374.00 96.79,373.30 96.97,372.60 C97.14,371.90 97.16,370.85 97.50,370.50 C97.84,370.15 98.42,370.30 99.00,370.50 C99.58,370.70 100.41,371.24 101.00,371.70 C101.59,372.16 102.04,372.72 102.57,373.23 C103.09,373.74 103.61,374.26 104.13,374.77 C104.66,375.28 105.18,375.85 105.70,376.30 C106.22,376.75 106.74,377.08 107.27,377.47 C107.79,377.86 108.31,378.24 108.83,378.63 C109.36,379.02 109.79,379.17 110.40,379.80 C111.01,380.43 112.06,381.66 112.50,382.40 C112.94,383.14 112.88,383.64 113.07,384.27 C113.26,384.89 113.44,385.51 113.63,386.13 C113.82,386.76 114.07,387.36 114.20,388.00 C114.33,388.64 114.35,389.33 114.42,390.00 C114.49,390.67 114.57,391.33 114.64,392.00 C114.71,392.67 114.79,393.33 114.86,394.00 C114.93,394.67 115.01,395.33 115.08,396.00 C115.15,396.67 115.24,397.33 115.30,398.00 C115.36,398.67 115.39,399.33 115.43,400.00 C115.48,400.67 115.52,401.33 115.57,402.00 C115.61,402.67 115.66,403.33 115.70,404.00 C115.74,404.67 115.79,405.33 115.83,406.00 C115.88,406.67 115.92,407.33 115.97,408.00 C116.01,408.67 116.06,409.35 116.10,410.00 C116.14,410.65 116.17,411.25 116.20,411.88 C116.23,412.50 116.27,413.12 116.30,413.75 C116.33,414.38 116.37,415.00 116.40,415.62 C116.43,416.25 116.47,416.88 116.50,417.50 C116.53,418.12 116.57,418.75 116.60,419.38 C116.63,420.00 116.67,420.62 116.70,421.25 C116.73,421.88 116.77,422.50 116.80,423.12 C116.83,423.75 116.87,424.38 116.90,425.00 C116.93,425.62 116.97,426.21 117.00,426.82 C117.03,427.42 117.07,428.03 117.10,428.64 C117.13,429.24 117.17,429.85 117.20,430.45 C117.23,431.06 117.27,431.67 117.30,432.27 C117.33,432.88 117.37,433.48 117.40,434.09 C117.43,434.70 117.47,435.30 117.50,435.91 C117.53,436.52 117.57,437.12 117.60,437.73 C117.63,438.33 117.67,438.94 117.70,439.55 C117.73,440.15 117.77,440.76 117.80,441.36 C117.83,441.97 117.87,442.58 117.90,443.18 C117.93,443.79 117.97,445.00 118.00,445.00 C118.03,445.00 118.07,443.79 118.10,443.18 C118.13,442.58 118.17,441.97 118.20,441.36 C118.23,440.76 118.27,440.15 118.30,439.55 C118.33,438.94 118.37,438.33 118.40,437.73 C118.43,437.12 118.47,436.52 118.50,435.91 C118.53,435.30 118.57,434.70 118.60,434.09 C118.63,433.48 118.67,432.88 118.70,432.27 C118.73,431.67 118.77,431.06 118.80,430.45 C118.83,429.85 118.87,429.24 118.90,428.64 C118.93,428.03 118.97,427.42 119.00,426.82 C119.03,426.21 119.07,425.62 119.10,425.00 C119.13,424.38 119.15,423.75 119.17,423.12 C119.20,422.50 119.22,421.88 119.25,421.25 C119.28,420.62 119.30,420.00 119.33,419.38 C119.35,418.75 119.38,418.12 119.40,417.50 C119.43,416.88 119.45,416.25 119.47,415.62 C119.50,415.00 119.52,414.38 119.55,413.75 C119.58,413.12 119.60,412.50 119.62,411.88 C119.65,411.25 119.68,410.63 119.70,410.00 C119.72,409.37 119.74,408.74 119.76,408.11 C119.77,407.48 119.79,406.85 119.81,406.22 C119.83,405.59 119.85,404.96 119.87,404.33 C119.89,403.70 119.90,403.07 119.92,402.44 C119.94,401.81 119.96,401.19 119.98,400.56 C120.00,399.93 120.01,399.30 120.03,398.67 C120.05,398.04 120.07,397.41 120.09,396.78 C120.11,396.15 120.13,395.52 120.14,394.89 C120.16,394.26 120.18,393.63 120.20,393.00 C120.22,392.37 120.24,391.75 120.26,391.12 C120.28,390.50 120.30,389.88 120.33,389.25 C120.35,388.62 120.37,388.00 120.39,387.38 C120.41,386.75 120.43,386.12 120.45,385.50 C120.47,384.88 120.49,384.25 120.51,383.62 C120.53,383.00 120.55,382.38 120.58,381.75 C120.60,381.12 120.62,380.50 120.64,379.88 C120.66,379.25 120.67,378.67 120.70,378.00 C120.73,377.33 120.78,376.58 120.83,375.88 C120.87,375.17 120.91,374.46 120.95,373.75 C120.99,373.04 121.03,372.33 121.08,371.62 C121.12,370.92 121.01,369.58 121.20,369.50 C121.39,369.42 121.87,370.60 122.20,371.15 C122.53,371.70 122.93,372.90 123.20,372.80 C123.47,372.70 123.60,371.29 123.80,370.53 C124.00,369.78 124.20,369.02 124.40,368.27 C124.60,367.51 124.76,366.78 125.00,366.00 C125.24,365.22 125.57,364.40 125.85,363.60 C126.13,362.80 126.41,361.20 126.70,361.20 C126.99,361.20 127.30,362.80 127.60,363.60 C127.90,364.40 128.26,365.22 128.50,366.00 C128.74,366.78 128.88,367.51 129.07,368.27 C129.26,369.02 129.44,369.78 129.63,370.53 C129.82,371.29 129.96,372.09 130.20,372.80 C130.44,373.51 130.78,374.10 131.07,374.80 C131.37,375.50 131.66,376.32 131.95,377.00 C132.24,377.68 132.53,378.24 132.82,378.91 C133.12,379.57 133.16,380.48 133.70,381.00 C134.24,381.52 135.27,381.63 136.05,382.01 C136.83,382.39 137.68,383.17 138.40,383.30 C139.12,383.43 139.70,382.81 140.35,382.77 C141.00,382.73 141.65,382.91 142.30,383.06 C142.95,383.21 143.60,383.62 144.25,383.66 C144.90,383.69 145.55,383.27 146.20,383.25 C146.85,383.22 147.50,383.54 148.15,383.48 C148.80,383.43 149.44,382.94 150.10,382.90 C150.76,382.86 151.43,383.14 152.10,383.25 C152.77,383.36 153.43,383.48 154.10,383.55 C154.77,383.62 155.43,383.77 156.10,383.68 C156.77,383.58 157.43,382.85 158.10,382.99 C158.77,383.12 159.43,384.21 160.10,384.47 C160.77,384.72 161.43,384.52 162.10,384.52 C162.77,384.53 163.46,384.52 164.10,384.50 C164.74,384.48 165.34,384.67 165.96,384.43 C166.58,384.18 167.20,383.32 167.82,383.03 C168.44,382.74 169.06,382.72 169.68,382.68 C170.30,382.64 170.92,382.75 171.54,382.78 C172.16,382.82 172.71,383.11 173.40,382.90 C174.09,382.69 174.93,381.89 175.70,381.49 C176.47,381.09 177.35,380.88 178.00,380.50 C178.65,380.12 179.07,379.68 179.60,379.21 C180.13,378.75 180.67,378.17 181.20,377.68 C181.73,377.20 182.21,376.73 182.80,376.30 C183.39,375.87 184.09,375.62 184.73,375.11 C185.38,374.60 186.02,373.74 186.67,373.24 C187.31,372.74 187.89,372.15 188.60,372.10 C189.31,372.05 190.17,372.71 190.95,372.95 C191.73,373.18 192.72,373.06 193.30,373.50 C193.88,373.94 194.07,374.93 194.45,375.60 C194.83,376.26 195.41,377.18 195.60,377.50" fill="none" stroke="#ff8000" stroke-width="2" stroke-linejoin="round" stroke-linecap="round" />
</g>
<g clip-path="url(#car)">
<path d="M379.00,36.90 C381.17,37.05 387.03,37.45 392.00,37.80 C396.97,38.15 403.30,38.67 408.80,39.00 C414.30,39.33 419.52,39.57 425.00,39.80 C430.48,40.03 436.20,40.25 441.70,40.40 C447.20,40.55 452.53,40.63 458.00,40.70 C463.47,40.77 469.00,40.80 474.50,40.80 C480.00,40.80 485.52,40.77 491.00,40.70 C496.48,40.63 502.57,40.38 507.40,40.40 C512.23,40.42 514.25,40.87 520.00,40.80 C525.75,40.73 534.60,40.25 541.90,40.00 C549.20,39.75 556.50,39.57 563.80,39.30 C571.10,39.03 578.40,38.70 585.70,38.40 C593.00,38.10 601.22,37.75 607.60,37.50 C613.98,37.25 618.53,37.08 624.00,36.90 C629.47,36.72 635.23,36.58 640.40,36.40 C645.57,36.22 650.40,35.98 655.00,35.80 C659.60,35.62 665.83,35.38 668.00,35.30" fill="none" stroke="#ff0000" stroke-width="2" stroke-linejoin="round" stroke-linecap="round" />
<path d="M379.00,55.70 C381.17,55.78 387.03,56.02 392.00,56.20 C396.97,56.38 403.30,56.62 408.80,56.80 C414.30,56.98 419.52,57.15 425.00,57.30 C430.48,57.45 436.20,57.62 441.70,57.70 C447.20,57.78 452.53,57.80 458.00,57.80 C463.47,57.80 469.00,57.77 474.50,57.70 C480.00,57.63 485.52,57.48 491.00,57.40 C496.48,57.32 502.57,57.30 507.40,57.20 C512.23,57.10 514.25,56.92 520.00,56.80 C525.75,56.68 534.60,56.62 541.90,56.50 C549.20,56.38 556.50,56.27 563.80,56.10 C571.10,55.93 578.40,55.68 585.70,55.50 C593.00,55.32 601.22,55.13 607.60,55.00 C613.98,54.87 618.53,54.80 624.00,54.70 C629.47,54.60 635.23,54.50 640.40,54.40 C645.57,54.30 650.40,54.18 655.00,54.10 C659.60,54.02 665.83,53.93 668.00,53.90" fill="none" stroke="#00ff00" stroke-width="2" stroke-linejoin="round" stroke-linecap="round" />
<path d="M379.00,83.50 C381.50,83.55 389.03,83.68 394.00,83.80 C398.97,83.92 405.13,84.05 408.80,84.20 C412.47,84.35 413.43,84.57 416.00,84.70 C418.57,84.83 421.53,85.08 424.20,85.00 C426.87,84.92 429.08,84.45 432.00,84.20 C434.92,83.95 438.87,83.62 441.70,83.50 C444.53,83.38 446.45,83.43 449.00,83.50 C451.55,83.57 454.33,83.68 457.00,83.90 C459.67,84.12 462.08,84.50 465.00,84.80 C467.92,85.10 470.33,85.48 474.50,85.70 C478.67,85.92 484.52,86.00 490.00,86.10 C495.48,86.20 502.40,86.37 507.40,86.30 C512.40,86.23 515.23,85.85 520.00,85.70 C524.77,85.55 530.53,85.52 536.00,85.40 C541.47,85.28 547.13,85.15 552.80,85.00 C558.47,84.85 564.52,84.68 570.00,84.50 C575.48,84.32 581.20,84.18 585.70,83.90 C590.20,83.62 593.35,83.23 597.00,82.80 C600.65,82.37 604.10,81.80 607.60,81.30 C611.10,80.80 614.35,80.23 618.00,79.80 C621.65,79.37 626.17,78.87 629.50,78.70 C632.83,78.53 635.08,78.65 638.00,78.80 C640.92,78.95 643.67,79.32 647.00,79.60 C650.33,79.88 654.50,80.22 658.00,80.50 C661.50,80.78 666.33,81.17 668.00,81.30" fill="none" stroke="#0000ff" stroke-width="2" stroke-linejoin="round" stroke-linecap="round" />
<path d="M379.00,102.80 C380.33,102.65 384.17,101.97 387.00,101.90 C389.83,101.83 393.08,102.07 396.00,102.40 C398.92,102.73 401.83,103.33 404.50,103.90 C407.17,104.47 409.45,105.18 412.00,105.80 C414.55,106.42 416.80,107.07 419.80,107.60 C422.80,108.13 426.35,108.63 430.00,109.00 C433.65,109.37 438.37,109.63 441.70,109.80 C445.03,109.97 447.08,110.00 450.00,110.00 C452.92,110.00 456.53,109.77 459.20,109.80 C461.87,109.83 463.45,110.02 466.00,110.20 C468.55,110.38 470.50,110.55 474.50,110.90 C478.50,111.25 484.52,111.83 490.00,112.30 C495.48,112.77 502.40,113.38 507.40,113.70 C512.40,114.02 516.23,114.15 520.00,114.20 C523.77,114.25 526.35,114.08 530.00,114.00 C533.65,113.92 538.40,113.90 541.90,113.70 C545.40,113.50 547.72,113.08 551.00,112.80 C554.28,112.52 557.93,112.02 561.60,112.00 C565.27,111.98 568.98,112.45 573.00,112.70 C577.02,112.95 580.87,113.32 585.70,113.50 C590.53,113.68 596.53,113.77 602.00,113.80 C607.47,113.83 613.83,113.92 618.50,113.70 C623.17,113.48 626.35,112.87 630.00,112.50 C633.65,112.13 636.23,111.73 640.40,111.50 C644.57,111.27 650.40,111.20 655.00,111.10 C659.60,111.00 665.83,110.93 668.00,110.90" fill="none" stroke="#00ffff" stroke-width="2" stroke-linejoin="round" stroke-linecap="round" />
<path d="M379.00,139.00 C381.50,139.07 389.03,139.28 394.00,139.40 C398.97,139.52 403.63,139.60 408.80,139.70 C413.97,139.80 419.52,139.93 425.00,140.00 C430.48,140.07 436.20,140.10 441.70,140.10 C447.20,140.10 452.53,140.07 458.00,140.00 C463.47,139.93 470.00,139.80 474.50,139.70 C479.00,139.60 481.35,139.52 485.00,139.40 C488.65,139.28 492.07,139.18 496.40,139.00 C500.73,138.82 506.07,138.55 511.00,138.30 C515.93,138.05 520.85,137.82 526.00,137.50 C531.15,137.18 536.23,136.62 541.90,136.40 C547.57,136.18 550.32,136.27 560.00,136.20 C569.68,136.13 586.67,136.05 600.00,136.00 C613.33,135.95 628.67,135.93 640.00,135.90 C651.33,135.87 663.33,135.82 668.00,135.80" fill="none" stroke="#ff00ff" stroke-width="2" stroke-linejoin="round" stroke-linecap="round" />
<path d="M379.00,160.50 C380.00,160.43 382.95,160.20 385.00,160.10 C387.05,160.00 388.80,159.78 391.30,159.90 C393.80,160.02 397.08,160.45 400.00,160.80 C402.92,161.15 406.13,161.47 408.80,162.00 C411.47,162.53 413.43,163.27 416.00,164.00 C418.57,164.73 421.37,165.48 424.20,166.40 C427.03,167.32 430.08,168.47 433.00,169.50 C435.92,170.53 438.87,171.68 441.70,172.60 C444.53,173.52 447.08,174.20 450.00,175.00 C452.92,175.80 456.87,176.60 459.20,177.40 C461.53,178.20 462.53,178.78 464.00,179.80 C465.47,180.82 466.83,182.30 468.00,183.50 C469.17,184.70 470.10,185.98 471.00,187.00 C471.90,188.02 472.57,188.80 473.40,189.60 C474.23,190.40 475.08,191.28 476.00,191.80 C476.92,192.32 477.98,192.75 478.90,192.70 C479.82,192.65 480.58,192.30 481.50,191.50 C482.42,190.70 483.48,189.23 484.40,187.90 C485.32,186.57 486.08,184.88 487.00,183.50 C487.92,182.12 488.90,180.63 489.90,179.60 C490.90,178.57 491.92,177.82 493.00,177.30 C494.08,176.78 494.00,176.75 496.40,176.50 C498.80,176.25 503.75,175.80 507.40,175.80 C511.05,175.80 515.20,176.20 518.30,176.50 C521.40,176.80 522.07,176.98 526.00,177.60 C529.93,178.22 535.60,179.22 541.90,180.20 C548.20,181.18 557.23,182.40 563.80,183.50 C570.37,184.60 576.93,186.08 581.30,186.80 C585.67,187.52 587.08,187.55 590.00,187.80 C592.92,188.05 596.13,188.30 598.80,188.30 C601.47,188.30 603.43,188.05 606.00,187.80 C608.57,187.55 611.03,187.15 614.20,186.80 C617.37,186.45 621.37,186.07 625.00,185.70 C628.63,185.33 631.50,184.95 636.00,184.60 C640.50,184.25 646.67,183.90 652.00,183.60 C657.33,183.30 665.33,182.93 668.00,182.80" fill="none" stroke="#008000" stroke-width="2" stroke-linejoin="round" stroke-linecap="round" />
<path d="M379.00,209.80 C379.97,209.82 382.75,209.62 384.80,209.90 C386.85,210.18 389.12,210.97 391.30,211.50 C393.48,212.03 394.98,212.65 397.90,213.10 C400.82,213.55 405.95,213.92 408.80,214.20 C411.65,214.48 412.80,214.62 415.00,214.80 C417.20,214.98 419.38,215.13 422.00,215.30 C424.62,215.47 428.37,215.43 430.70,215.80 C433.03,216.17 434.17,216.67 436.00,217.50 C437.83,218.33 439.87,219.55 441.70,220.80 C443.53,222.05 445.18,223.35 447.00,225.00 C448.82,226.65 450.93,228.87 452.60,230.70 C454.27,232.53 455.53,234.18 457.00,236.00 C458.47,237.82 460.07,239.93 461.40,241.60 C462.73,243.27 463.90,244.62 465.00,246.00 C466.10,247.38 467.05,248.97 468.00,249.90 C468.95,250.83 469.80,251.23 470.70,251.60 C471.60,251.97 472.58,252.28 473.40,252.10 C474.22,251.92 474.87,251.33 475.60,250.50 C476.33,249.67 476.82,248.85 477.80,247.10 C478.78,245.35 480.22,242.38 481.50,240.00 C482.78,237.62 484.25,235.63 485.50,232.80 C486.75,229.97 487.92,225.92 489.00,223.00 C490.08,220.08 490.83,218.30 492.00,215.30 C493.17,212.30 494.53,208.30 496.00,205.00 C497.47,201.70 499.38,198.17 500.80,195.50 C502.22,192.83 503.22,190.63 504.50,189.00 C505.78,187.37 507.25,186.03 508.50,185.70 C509.75,185.37 510.73,186.27 512.00,187.00 C513.27,187.73 514.77,188.87 516.10,190.10 C517.43,191.33 518.62,192.58 520.00,194.40 C521.38,196.22 523.07,199.40 524.40,201.00 C525.73,202.60 526.55,203.15 528.00,204.00 C529.45,204.85 530.78,205.38 533.10,206.10 C535.42,206.82 539.33,207.87 541.90,208.30 C544.47,208.73 544.65,208.75 548.50,208.70 C552.35,208.65 558.80,208.18 565.00,208.00 C571.20,207.82 578.60,207.67 585.70,207.60 C592.80,207.53 600.30,207.60 607.60,207.60 C614.90,207.60 622.43,207.53 629.50,207.60 C636.57,207.67 643.58,207.90 650.00,208.00 C656.42,208.10 665.00,208.17 668.00,208.20" fill="none" stroke="#808000" stroke-width="2" stroke-linejoin="round" stroke-linecap="round" />
<path d="M379.00,246.60 C380.68,246.50 385.93,246.18 389.10,246.00 C392.27,245.82 394.72,245.68 398.00,245.50 C401.28,245.32 405.97,245.10 408.80,244.90 C411.63,244.70 412.80,244.48 415.00,244.30 C417.20,244.12 419.83,243.77 422.00,243.80 C424.17,243.83 426.18,244.13 428.00,244.50 C429.82,244.87 430.90,245.25 432.90,246.00 C434.90,246.75 437.80,247.90 440.00,249.00 C442.20,250.10 444.27,251.18 446.10,252.60 C447.93,254.02 449.55,255.68 451.00,257.50 C452.45,259.32 453.47,261.25 454.80,263.50 C456.13,265.75 457.53,268.08 459.00,271.00 C460.47,273.92 462.27,278.00 463.60,281.00 C464.93,284.00 465.90,286.45 467.00,289.00 C468.10,291.55 469.12,294.13 470.20,296.30 C471.28,298.47 472.42,300.28 473.50,302.00 C474.58,303.72 475.62,306.60 476.70,306.60 C477.78,306.60 478.90,303.72 480.00,302.00 C481.10,300.28 482.13,298.30 483.30,296.30 C484.47,294.30 485.90,292.18 487.00,290.00 C488.10,287.82 488.98,286.53 489.90,283.20 C490.82,279.87 491.60,274.75 492.50,270.00 C493.40,265.25 494.38,259.03 495.30,254.70 C496.22,250.37 497.08,246.92 498.00,244.00 C498.92,241.08 499.97,238.45 500.80,237.20 C501.63,235.95 502.27,236.50 503.00,236.50 C503.73,236.50 504.45,237.20 505.20,237.20 C505.95,237.20 506.77,236.87 507.50,236.50 C508.23,236.13 508.85,235.92 509.60,235.00 C510.35,234.08 511.27,232.45 512.00,231.00 C512.73,229.55 512.95,228.37 514.00,226.30 C515.05,224.23 516.97,220.32 518.30,218.60 C519.63,216.88 520.80,216.62 522.00,216.00 C523.20,215.38 524.50,214.82 525.50,214.90 C526.50,214.98 527.10,215.70 528.00,216.50 C528.90,217.30 529.50,218.43 530.90,219.70 C532.30,220.97 535.05,222.72 536.40,224.10 C537.75,225.48 538.08,226.73 539.00,228.00 C539.92,229.27 540.98,230.70 541.90,231.70 C542.82,232.70 543.58,233.45 544.50,234.00 C545.42,234.55 546.32,234.25 547.40,235.00 C548.48,235.75 549.73,237.33 551.00,238.50 C552.27,239.67 552.87,240.75 555.00,242.00 C557.13,243.25 561.13,245.03 563.80,246.00 C566.47,246.97 568.45,247.37 571.00,247.80 C573.55,248.23 575.43,248.60 579.10,248.60 C582.77,248.60 588.25,248.05 593.00,247.80 C597.75,247.55 602.43,247.13 607.60,247.10 C612.77,247.07 618.53,247.42 624.00,247.60 C629.47,247.78 635.23,248.07 640.40,248.20 C645.57,248.33 650.40,248.33 655.00,248.40 C659.60,248.47 665.83,248.57 668.00,248.60" fill="none" stroke="#000080" stroke-width="2" stroke-linejoin="round" stroke-linecap="round" />
<path d="M379.00,302.60 C379.30,302.78 380.20,303.33 380.80,303.70 C381.40,304.07 381.94,304.58 382.60,304.80 C383.26,305.02 384.04,304.96 384.77,305.03 C385.49,305.11 386.21,305.19 386.93,305.27 C387.66,305.34 388.37,305.37 389.10,305.50 C389.83,305.63 390.57,305.87 391.30,306.05 C392.03,306.23 392.77,306.42 393.50,306.60 C394.23,306.78 394.97,306.97 395.70,307.15 C396.43,307.33 397.17,307.53 397.90,307.70 C398.63,307.87 399.35,307.99 400.08,308.14 C400.81,308.29 401.53,308.43 402.26,308.58 C402.99,308.73 403.71,308.87 404.44,309.02 C405.17,309.17 405.89,309.31 406.62,309.46 C407.35,309.61 408.09,309.74 408.80,309.90 C409.51,310.06 410.18,310.26 410.87,310.43 C411.56,310.61 412.24,310.79 412.93,310.97 C413.62,311.14 414.27,311.29 415.00,311.50 C415.73,311.71 416.56,311.97 417.33,312.20 C418.11,312.43 418.89,312.67 419.67,312.90 C420.44,313.13 421.25,313.43 422.00,313.60 C422.75,313.77 423.45,313.82 424.18,313.93 C424.90,314.03 425.62,314.14 426.35,314.25 C427.08,314.36 427.80,314.47 428.52,314.57 C429.25,314.68 429.90,314.67 430.70,314.90 C431.50,315.13 432.47,315.60 433.35,315.95 C434.23,316.30 435.24,316.68 436.00,317.00 C436.76,317.32 437.27,317.60 437.90,317.90 C438.53,318.20 439.17,318.50 439.80,318.80 C440.43,319.10 441.02,319.43 441.70,319.70 C442.38,319.97 443.17,320.19 443.90,320.43 C444.63,320.68 445.37,320.92 446.10,321.17 C446.83,321.41 447.67,321.52 448.30,321.90 C448.93,322.28 449.37,322.93 449.90,323.45 C450.43,323.97 450.96,324.36 451.50,325.00 C452.04,325.64 452.60,326.53 453.15,327.30 C453.70,328.07 454.38,328.92 454.80,329.60 C455.23,330.28 455.40,330.80 455.70,331.40 C456.00,332.00 456.30,332.60 456.60,333.20 C456.90,333.80 457.19,334.33 457.50,335.00 C457.81,335.67 458.12,336.47 458.43,337.20 C458.74,337.93 459.06,338.67 459.37,339.40 C459.68,340.13 460.03,340.88 460.30,341.60 C460.57,342.32 460.75,343.00 460.98,343.70 C461.20,344.40 461.42,345.10 461.65,345.80 C461.88,346.50 462.10,347.20 462.32,347.90 C462.55,348.60 462.79,349.27 463.00,350.00 C463.21,350.73 463.37,351.51 463.56,352.26 C463.75,353.01 463.93,353.77 464.12,354.52 C464.31,355.27 464.49,356.03 464.68,356.78 C464.87,357.53 465.05,358.29 465.24,359.04 C465.43,359.79 465.63,360.57 465.80,361.30 C465.97,362.03 466.09,362.73 466.24,363.44 C466.39,364.15 466.53,364.87 466.68,365.58 C466.83,366.29 466.97,367.01 467.12,367.72 C467.27,368.43 467.41,369.15 467.56,369.86 C467.71,370.57 467.85,371.27 468.00,372.00 C468.15,372.73 468.29,373.49 468.44,374.24 C468.59,374.99 468.73,375.73 468.88,376.48 C469.03,377.23 469.17,377.97 469.32,378.72 C469.47,379.47 469.61,380.21 469.76,380.96 C469.91,381.71 470.06,382.46 470.20,383.20 C470.34,383.94 470.47,384.67 470.60,385.40 C470.73,386.13 470.87,386.87 471.00,387.60 C471.13,388.33 471.27,389.07 471.40,389.80 C471.53,390.53 471.67,391.27 471.80,392.00 C471.93,392.73 472.07,393.45 472.20,394.18 C472.33,394.90 472.47,395.62 472.60,396.35 C472.73,397.08 472.87,397.80 473.00,398.52 C473.13,399.25 473.22,399.98 473.40,400.70 C473.58,401.42 473.87,402.13 474.10,402.85 C474.33,403.57 474.47,404.19 474.80,405.00 C475.13,405.81 475.65,407.87 476.10,407.70 C476.55,407.53 477.19,405.04 477.50,404.00 C477.81,402.96 477.81,402.29 477.97,401.43 C478.12,400.58 478.28,399.72 478.43,398.87 C478.59,398.01 478.78,397.07 478.90,396.30 C479.02,395.53 479.05,394.94 479.13,394.26 C479.20,393.58 479.28,392.90 479.36,392.21 C479.43,391.53 479.51,390.85 479.59,390.17 C479.66,389.49 479.74,388.81 479.81,388.13 C479.89,387.45 479.97,386.77 480.04,386.09 C480.12,385.40 480.20,384.72 480.27,384.04 C480.35,383.36 480.43,382.68 480.50,382.00 C480.57,381.32 480.64,380.64 480.71,379.96 C480.78,379.28 480.85,378.60 480.93,377.93 C481.00,377.25 481.07,376.57 481.14,375.89 C481.21,375.21 481.28,374.53 481.35,373.85 C481.42,373.17 481.49,372.49 481.56,371.81 C481.63,371.13 481.70,370.45 481.77,369.77 C481.85,369.10 481.92,368.42 481.99,367.74 C482.06,367.06 482.14,366.39 482.20,365.70 C482.26,365.01 482.32,364.31 482.38,363.61 C482.43,362.92 482.49,362.22 482.55,361.52 C482.61,360.83 482.67,360.13 482.73,359.44 C482.78,358.74 482.84,358.05 482.90,357.35 C482.96,356.65 483.02,355.96 483.07,355.26 C483.13,354.57 483.19,353.87 483.25,353.18 C483.31,352.48 483.37,351.78 483.43,351.09 C483.48,350.39 483.54,349.69 483.60,349.00 C483.66,348.31 483.72,347.65 483.78,346.98 C483.83,346.30 483.89,345.62 483.95,344.95 C484.01,344.27 484.07,343.60 484.12,342.93 C484.18,342.25 484.24,341.57 484.30,340.90 C484.36,340.22 484.42,339.55 484.48,338.88 C484.53,338.20 484.59,337.53 484.65,336.85 C484.71,336.18 484.77,335.50 484.82,334.82 C484.88,334.15 484.94,333.49 485.00,332.80 C485.06,332.11 485.12,331.38 485.18,330.67 C485.24,329.96 485.31,329.24 485.37,328.53 C485.43,327.82 485.49,327.11 485.55,326.40 C485.61,325.69 485.67,324.98 485.73,324.27 C485.79,323.56 485.86,322.84 485.92,322.13 C485.98,321.42 486.02,320.73 486.10,320.00 C486.18,319.27 486.28,318.48 486.38,317.73 C486.47,316.97 486.56,316.21 486.65,315.45 C486.74,314.69 486.83,313.93 486.93,313.17 C487.02,312.42 487.05,311.69 487.20,310.90 C487.35,310.11 487.63,309.27 487.85,308.45 C488.07,307.63 488.16,306.76 488.50,306.00 C488.84,305.24 489.40,304.15 489.90,303.90 C490.40,303.65 490.97,304.05 491.50,304.50 C492.03,304.95 492.56,306.05 493.10,306.60 C493.64,307.15 494.20,307.40 494.75,307.80 C495.30,308.20 495.57,308.55 496.40,309.00 C497.22,309.45 498.52,310.42 499.70,310.50 C500.88,310.58 502.54,309.82 503.50,309.50 C504.46,309.18 504.80,308.90 505.45,308.60 C506.10,308.30 506.86,308.16 507.40,307.70 C507.94,307.24 508.27,306.47 508.70,305.85 C509.13,305.23 509.58,304.68 510.00,304.00 C510.42,303.32 510.82,302.53 511.23,301.80 C511.64,301.07 512.06,300.33 512.47,299.60 C512.88,298.87 513.26,298.05 513.70,297.40 C514.14,296.75 514.63,296.27 515.10,295.70 C515.57,295.13 515.78,294.63 516.50,294.00 C517.22,293.37 518.48,291.90 519.40,291.90 C520.32,291.90 521.33,293.37 522.00,294.00 C522.67,294.63 522.93,295.13 523.40,295.70 C523.87,296.27 524.36,296.81 524.80,297.40 C525.24,297.99 525.62,298.64 526.03,299.27 C526.44,299.89 526.86,300.51 527.27,301.13 C527.68,301.76 528.08,302.38 528.50,303.00 C528.92,303.62 529.34,304.22 529.77,304.83 C530.19,305.44 530.61,306.06 531.03,306.67 C531.46,307.28 531.78,307.82 532.30,308.50 C532.82,309.18 533.53,310.00 534.15,310.75 C534.77,311.50 535.38,312.38 536.00,313.00 C536.62,313.62 537.23,314.00 537.85,314.50 C538.47,315.00 539.03,315.54 539.70,316.00 C540.37,316.46 541.13,316.88 541.85,317.27 C542.57,317.65 543.17,317.87 544.00,318.30 C544.83,318.73 545.87,319.63 546.80,319.86 C547.73,320.09 548.72,319.58 549.60,319.70 C550.48,319.82 551.24,320.35 552.07,320.58 C552.89,320.81 553.71,320.98 554.53,321.08 C555.36,321.19 556.17,321.06 557.00,321.20 C557.83,321.34 558.67,321.73 559.50,321.92 C560.33,322.11 561.17,322.20 562.00,322.33 C562.83,322.46 563.75,322.70 564.50,322.70 C565.25,322.70 565.83,322.53 566.50,322.33 C567.17,322.13 567.77,321.72 568.50,321.50 C569.23,321.28 570.07,321.17 570.85,321.00 C571.63,320.83 572.18,320.50 573.20,320.50 C574.23,320.50 575.75,320.80 577.00,321.00 C578.25,321.20 579.53,321.28 580.70,321.70 C581.87,322.12 582.97,323.00 584.00,323.50 C585.03,324.00 585.82,324.70 586.90,324.70 C587.98,324.70 589.27,323.83 590.50,323.50 C591.73,323.17 593.19,322.91 594.30,322.70 C595.41,322.49 596.20,322.32 597.15,322.26 C598.10,322.19 599.15,322.38 600.00,322.30 C600.85,322.22 601.49,321.93 602.23,321.80 C602.98,321.67 603.72,321.53 604.47,321.51 C605.21,321.49 605.89,321.67 606.70,321.70 C607.51,321.73 608.47,321.72 609.35,321.67 C610.23,321.62 611.16,321.43 612.00,321.40 C612.84,321.37 613.58,321.44 614.37,321.50 C615.16,321.56 615.94,321.83 616.73,321.75 C617.52,321.67 618.30,321.06 619.10,321.00 C619.90,320.94 620.73,321.35 621.55,321.42 C622.37,321.48 623.17,321.35 624.00,321.40 C624.83,321.45 625.70,321.64 626.55,321.69 C627.40,321.74 628.30,321.68 629.10,321.70 C629.90,321.72 630.58,321.85 631.33,321.80 C632.07,321.75 632.81,321.59 633.55,321.38 C634.29,321.18 635.03,320.61 635.77,320.55 C636.52,320.48 637.27,320.88 638.00,321.00 C638.73,321.12 639.45,321.33 640.18,321.25 C640.91,321.18 641.63,320.66 642.36,320.56 C643.09,320.45 643.81,320.68 644.54,320.64 C645.27,320.60 645.99,320.38 646.72,320.30 C647.45,320.23 648.16,320.03 648.90,320.20 C649.64,320.37 650.42,321.24 651.17,321.33 C651.93,321.42 652.69,320.88 653.45,320.75 C654.21,320.62 654.97,320.60 655.73,320.54 C656.48,320.48 657.29,320.48 658.00,320.40 C658.71,320.32 659.33,319.98 660.00,320.05 C660.67,320.12 661.33,320.78 662.00,320.80 C662.67,320.82 663.33,320.15 664.00,320.18 C664.67,320.20 665.33,320.88 666.00,320.94 C666.67,320.99 667.67,320.57 668.00,320.50" fill="none" stroke="#ff8000" stroke-width="2" stroke-linejoin="round" stroke-linecap="round" />
</g>
<rect x="79.5" y="1.4" width="291.35" height="416.70000000000005" fill="none" stroke="#000" stroke-width="3.0"/>
<rect x="377.75" y="1.4" width="291.20000000000005" height="416.70000000000005" fill="none" stroke="#000" stroke-width="3.0"/>
<rect x="79.6" y="479.5" width="589.05" height="410.5" fill="none" stroke="#000" stroke-width="2.75"/>
<text x="-1.3" y="23.9" font-size="24" fill="#000" text-anchor="start" font-weight="bold" font-style="normal"  stroke="#000" stroke-width="0.6" stroke-linejoin="round">a</text>
<text x="1.9" y="492.4" font-size="23.5" fill="#000" text-anchor="start" font-weight="bold" font-style="normal"  stroke="#000" stroke-width="0.6" stroke-linejoin="round">b</text>
<text x="79.6" y="445.2" font-size="25" fill="#000" text-anchor="middle" font-weight="bold" font-style="normal"  stroke="#000" stroke-width="0.6" stroke-linejoin="round">0</text>
<text x="144.0" y="445.2" font-size="25" fill="#000" text-anchor="middle" font-weight="bold" font-style="normal"  stroke="#000" stroke-width="0.6" stroke-linejoin="round">10</text>
<text x="208.82999999999998" y="445.2" font-size="25" fill="#000" text-anchor="middle" font-weight="bold" font-style="normal"  stroke="#000" stroke-width="0.6" stroke-linejoin="round">20</text>
<text x="273.65999999999997" y="445.2" font-size="25" fill="#000" text-anchor="middle" font-weight="bold" font-style="normal"  stroke="#000" stroke-width="0.6" stroke-linejoin="round">30</text>
<text x="338.49" y="445.2" font-size="25" fill="#000" text-anchor="middle" font-weight="bold" font-style="normal"  stroke="#000" stroke-width="0.6" stroke-linejoin="round">40</text>
<text x="410.5" y="445.2" font-size="25" fill="#000" text-anchor="middle" font-weight="bold" font-style="normal"  stroke="#000" stroke-width="0.6" stroke-linejoin="round">4</text>
<text x="475.84000000000003" y="445.2" font-size="25" fill="#000" text-anchor="middle" font-weight="bold" font-style="normal"  stroke="#000" stroke-width="0.6" stroke-linejoin="round">6</text>
<text x="541.1800000000001" y="445.2" font-size="25" fill="#000" text-anchor="middle" font-weight="bold" font-style="normal"  stroke="#000" stroke-width="0.6" stroke-linejoin="round">8</text>
<text x="606.52" y="445.2" font-size="25" fill="#000" text-anchor="middle" font-weight="bold" font-style="normal"  stroke="#000" stroke-width="0.6" stroke-linejoin="round">10</text>
<text x="72" y="897.5" font-size="25" fill="#000" text-anchor="end" font-weight="bold" font-style="normal"  stroke="#000" stroke-width="0.6" stroke-linejoin="round">0</text>
<text x="72" y="806.38" font-size="25" fill="#000" text-anchor="end" font-weight="bold" font-style="normal"  stroke="#000" stroke-width="0.6" stroke-linejoin="round">10</text>
<text x="72" y="715.26" font-size="25" fill="#000" text-anchor="end" font-weight="bold" font-style="normal"  stroke="#000" stroke-width="0.6" stroke-linejoin="round">20</text>
<text x="72" y="624.14" font-size="25" fill="#000" text-anchor="end" font-weight="bold" font-style="normal"  stroke="#000" stroke-width="0.6" stroke-linejoin="round">30</text>
<text x="72" y="533.02" font-size="25" fill="#000" text-anchor="end" font-weight="bold" font-style="normal"  stroke="#000" stroke-width="0.6" stroke-linejoin="round">40</text>
<text x="85.6" y="916.9" font-size="25" fill="#000" text-anchor="middle" font-weight="bold" font-style="normal"  stroke="#000" stroke-width="0.6" stroke-linejoin="round">0.0</text>
<text x="202.2" y="916.9" font-size="25" fill="#000" text-anchor="middle" font-weight="bold" font-style="normal"  stroke="#000" stroke-width="0.6" stroke-linejoin="round">0.5</text>
<text x="318.79999999999995" y="916.9" font-size="25" fill="#000" text-anchor="middle" font-weight="bold" font-style="normal"  stroke="#000" stroke-width="0.6" stroke-linejoin="round">1.0</text>
<text x="435.4" y="916.9" font-size="25" fill="#000" text-anchor="middle" font-weight="bold" font-style="normal"  stroke="#000" stroke-width="0.6" stroke-linejoin="round">1.5</text>
<text x="552.0" y="916.9" font-size="25" fill="#000" text-anchor="middle" font-weight="bold" font-style="normal"  stroke="#000" stroke-width="0.6" stroke-linejoin="round">2.0</text>
<text x="668.6" y="916.9" font-size="25" fill="#000" text-anchor="middle" font-weight="bold" font-style="normal"  stroke="#000" stroke-width="0.6" stroke-linejoin="round">2.5</text>
<text x="108" y="41.6" font-size="18.3" font-weight="bold" stroke="#000" stroke-width="0.6" stroke-linejoin="round"><tspan font-style="italic">P</tspan> (GPa) = 0</text>
<text x="168.5" y="113.8" font-size="18.5" fill="#ff0000" text-anchor="start" font-weight="bold" font-style="normal"  stroke="#ff0000" stroke-width="0.6" stroke-linejoin="round">0.5</text>
<text x="165.6" y="153.9" font-size="18.5" fill="#00ff00" text-anchor="start" font-weight="bold" font-style="normal"  stroke="#00ff00" stroke-width="0.6" stroke-linejoin="round">1.0</text>
<text x="166.5" y="183.9" font-size="18.5" fill="#00ffff" text-anchor="start" font-weight="bold" font-style="normal"  stroke="#00ffff" stroke-width="0.6" stroke-linejoin="round">1.1</text>
<text x="100.8" y="213.9" font-size="18.5" fill="#0000ff" text-anchor="start" font-weight="bold" font-style="normal"  stroke="#0000ff" stroke-width="0.6" stroke-linejoin="round">1.3</text>
<text x="98.3" y="241.2" font-size="18.5" fill="#ff00ff" text-anchor="start" font-weight="bold" font-style="normal"  stroke="#ff00ff" stroke-width="0.6" stroke-linejoin="round">1.7</text>
<text x="147.3" y="272" font-size="18.5" fill="#800000" text-anchor="start" font-weight="bold" font-style="normal"  stroke="#800000" stroke-width="0.6" stroke-linejoin="round">1.9</text>
<text x="153.9" y="336.9" font-size="18.5" fill="#000080" text-anchor="start" font-weight="bold" font-style="normal"  stroke="#000080" stroke-width="0.6" stroke-linejoin="round">2.3</text>
<text x="157.9" y="373.3" font-size="18.5" fill="#808000" text-anchor="start" font-weight="bold" font-style="normal"  stroke="#808000" stroke-width="0.6" stroke-linejoin="round">2.3</text>
<text x="154.8" y="406" font-size="18.5" fill="#ff8000" text-anchor="start" font-weight="bold" font-style="normal"  stroke="#ff8000" stroke-width="0.6" stroke-linejoin="round">2.4</text>
<text x="221" y="404.7" font-size="24" font-weight="bold" stroke="#000" stroke-width="0.6" stroke-linejoin="round"><tspan font-style="italic">x</tspan> = 0</text>
<text x="222" y="28.2" font-size="19.3" font-weight="bold" font-style="italic" fill="#ff0080" stroke="#ff0080" stroke-width="0.6" stroke-linejoin="round">H</text>
<text x="232.7" y="35.2" font-size="12.2" font-weight="bold" fill="#ff0080" stroke="#ff0080" stroke-width="0.6" stroke-linejoin="round">1</text>
<text x="298.8" y="29.9" font-size="19.3" font-weight="bold" font-style="italic" fill="#ff0080" stroke="#ff0080" stroke-width="0.6" stroke-linejoin="round">H</text>
<text x="310.2" y="36.3" font-size="12.2" font-weight="bold" fill="#ff0080" stroke="#ff0080" stroke-width="0.6" stroke-linejoin="round">4</text>
<text x="342" y="32.8" font-size="19.3" font-weight="bold" font-style="italic" fill="#ff0080" stroke="#ff0080" stroke-width="0.6" stroke-linejoin="round">H</text>
<text x="354.0" y="38.6" font-size="12.2" font-weight="bold" fill="#ff0080" stroke="#ff0080" stroke-width="0.6" stroke-linejoin="round">7</text>
<text x="259.1" y="116.7" font-size="19.3" font-weight="bold" font-style="italic" fill="#ff0080" stroke="#ff0080" stroke-width="0.6" stroke-linejoin="round">H</text>
<text x="271.3" y="123.3" font-size="12.2" font-weight="bold" fill="#ff0080" stroke="#ff0080" stroke-width="0.6" stroke-linejoin="round">2</text>
<text x="277.7" y="112.7" font-size="19.3" font-weight="bold" font-style="italic" fill="#ff0080" stroke="#ff0080" stroke-width="0.6" stroke-linejoin="round">H</text>
<text x="289.7" y="119.6" font-size="12.2" font-weight="bold" fill="#ff0080" stroke="#ff0080" stroke-width="0.6" stroke-linejoin="round">3</text>
<text x="298.3" y="123" font-size="19.3" font-weight="bold" font-style="italic" fill="#ff0080" stroke="#ff0080" stroke-width="0.6" stroke-linejoin="round">H</text>
<text x="310.3" y="129.9" font-size="12.2" font-weight="bold" fill="#ff0080" stroke="#ff0080" stroke-width="0.6" stroke-linejoin="round">5</text>
<text x="323.5" y="155.5" font-size="19.3" font-weight="bold" font-style="italic" fill="#ff0080" stroke="#ff0080" stroke-width="0.6" stroke-linejoin="round">H</text>
<text x="335.8" y="162" font-size="12.2" font-weight="bold" fill="#ff0080" stroke="#ff0080" stroke-width="0.6" stroke-linejoin="round">6</text>
<line x1="237.3" y1="17.3" x2="247.22" y2="14.72" stroke="#ff0080" stroke-width="2.4"/>
<polygon points="256.9,12.2 247.59,18.13 245.88,11.55" fill="#ff0080"/>
<line x1="295.4" y1="26.2" x2="295.4" y2="44.7" stroke="#ff0080" stroke-width="2.4" stroke-linecap="round"/>
<polygon points="295.4,54.7 292.0,44.2 298.79999999999995,44.2" fill="#ff0080"/>
<line x1="361.2" y1="50.2" x2="361.2" y2="65.3" stroke="#ff0080" stroke-width="2.4" stroke-linecap="round"/>
<polygon points="361.2,75.3 357.8,64.8 364.59999999999997,64.8" fill="#ff0080"/>
<line x1="274.6" y1="96.7" x2="274.6" y2="81.6" stroke="#ff0080" stroke-width="2.4" stroke-linecap="round"/>
<polygon points="274.6,71.6 271.20000000000005,82.1 278.0,82.1" fill="#ff0080"/>
<line x1="285.4" y1="95.5" x2="285.4" y2="77.8" stroke="#ff0080" stroke-width="2.4" stroke-linecap="round"/>
<polygon points="285.4,67.8 282.0,78.3 288.79999999999995,78.3" fill="#ff0080"/>
<line x1="301.7" y1="98.0" x2="301.7" y2="81.6" stroke="#ff0080" stroke-width="2.4" stroke-linecap="round"/>
<polygon points="301.7,71.6 298.3,82.1 305.09999999999997,82.1" fill="#ff0080"/>
<line x1="327" y1="133.20000000000002" x2="327" y2="120.5" stroke="#ff0080" stroke-width="2.4" stroke-linecap="round"/>
<polygon points="327,110.5 323.6,121.0 330.4,121.0" fill="#ff0080"/>
<line x1="256.6" y1="147.60000000000002" x2="256.6" y2="139.5" stroke="#ff0080" stroke-width="2.4" stroke-linecap="round"/>
<polygon points="256.6,129.5 253.20000000000002,140.0 260.0,140.0" fill="#ff0080"/>
<line x1="266.6" y1="150.9" x2="266.6" y2="141.0" stroke="#ff0080" stroke-width="2.4" stroke-linecap="round"/>
<polygon points="266.6,131 263.20000000000005,141.5 270.0,141.5" fill="#ff0080"/>
<line x1="237.3" y1="170.8" x2="237.3" y2="171.0" stroke="#ff0080" stroke-width="2.4" stroke-linecap="round"/>
<polygon points="237.3,161 233.9,171.5 240.70000000000002,171.5" fill="#ff0080"/>
<line x1="251.1" y1="178.70000000000002" x2="251.1" y2="177.7" stroke="#ff0080" stroke-width="2.4" stroke-linecap="round"/>
<polygon points="251.1,167.7 247.7,178.2 254.5,178.2" fill="#ff0080"/>
<line x1="237.3" y1="201.0" x2="237.3" y2="192.5" stroke="#ff0080" stroke-width="2.4" stroke-linecap="round"/>
<polygon points="237.3,182.5 233.9,193.0 240.70000000000002,193.0" fill="#ff0080"/>
<line x1="247.7" y1="203.20000000000002" x2="247.7" y2="194.4" stroke="#ff0080" stroke-width="2.4" stroke-linecap="round"/>
<polygon points="247.7,184.4 244.29999999999998,194.9 251.1,194.9" fill="#ff0080"/>
<line x1="308.3" y1="230.9" x2="308.3" y2="223.7" stroke="#ff0080" stroke-width="2.4" stroke-linecap="round"/>
<polygon points="308.3,213.7 304.90000000000003,224.2 311.7,224.2" fill="#ff0080"/>
<line x1="230" y1="236.5" x2="230" y2="228.2" stroke="#ff0080" stroke-width="2.4" stroke-linecap="round"/>
<polygon points="230,218.2 226.6,228.7 233.4,228.7" fill="#ff0080"/>
<line x1="244" y1="240.9" x2="244" y2="231.7" stroke="#ff0080" stroke-width="2.4" stroke-linecap="round"/>
<polygon points="244,221.7 240.6,232.2 247.4,232.2" fill="#ff0080"/>
<line x1="222.7" y1="265.3" x2="222.7" y2="255.5" stroke="#ff0080" stroke-width="2.4" stroke-linecap="round"/>
<polygon points="222.7,245.5 219.29999999999998,256.0 226.1,256.0" fill="#ff0080"/>
<line x1="234.4" y1="264.2" x2="234.4" y2="254.3" stroke="#ff0080" stroke-width="2.4" stroke-linecap="round"/>
<polygon points="234.4,244.3 231.0,254.8 237.8,254.8" fill="#ff0080"/>
<line x1="263.9" y1="265.3" x2="263.9" y2="257.7" stroke="#ff0080" stroke-width="2.4" stroke-linecap="round"/>
<polygon points="263.9,247.7 260.5,258.2 267.29999999999995,258.2" fill="#ff0080"/>
<line x1="341.1" y1="275.90000000000003" x2="341.1" y2="268.4" stroke="#ff0080" stroke-width="2.4" stroke-linecap="round"/>
<polygon points="341.1,258.4 337.70000000000005,268.9 344.5,268.9" fill="#ff0080"/>
<line x1="232.2" y1="297.6" x2="232.2" y2="288.9" stroke="#ff0080" stroke-width="2.4" stroke-linecap="round"/>
<polygon points="232.2,278.9 228.79999999999998,289.4 235.6,289.4" fill="#ff0080"/>
<line x1="256.2" y1="297.2" x2="256.2" y2="290.0" stroke="#ff0080" stroke-width="2.4" stroke-linecap="round"/>
<polygon points="256.2,280 252.79999999999998,290.5 259.59999999999997,290.5" fill="#ff0080"/>
<line x1="289.9" y1="306.5" x2="289.9" y2="299.5" stroke="#ff0080" stroke-width="2.4" stroke-linecap="round"/>
<polygon points="289.9,289.5 286.5,300.0 293.29999999999995,300.0" fill="#ff0080"/>
<line x1="338.6" y1="307.8" x2="338.6" y2="299.8" stroke="#ff0080" stroke-width="2.4" stroke-linecap="round"/>
<polygon points="338.6,289.8 335.20000000000005,300.3 342.0,300.3" fill="#ff0080"/>
<line x1="205" y1="300.5" x2="205" y2="295.0" stroke="#ff0080" stroke-width="2.4" stroke-linecap="round"/>
<polygon points="205,285 201.6,295.5 208.4,295.5" fill="#ff0080"/>
<line x1="199.1" y1="335.5" x2="199.1" y2="328.0" stroke="#ff0080" stroke-width="2.4" stroke-linecap="round"/>
<polygon points="199.1,318 195.7,328.5 202.5,328.5" fill="#ff0080"/>
<line x1="284.8" y1="373.1" x2="284.8" y2="365.4" stroke="#ff0080" stroke-width="2.4" stroke-linecap="round"/>
<polygon points="284.8,355.4 281.40000000000003,365.9 288.2,365.9" fill="#ff0080"/>
<line x1="339.8" y1="377.5" x2="339.8" y2="368.7" stroke="#ff0080" stroke-width="2.4" stroke-linecap="round"/>
<polygon points="339.8,358.7 336.40000000000003,369.2 343.2,369.2" fill="#ff0080"/>
<text transform="translate(43.4,247.4) rotate(-90)" font-size="25" font-weight="bold" stroke="#000" stroke-width="0.6" stroke-linejoin="round">d<tspan font-style="italic">f</tspan>/d<tspan font-style="italic">H</tspan></text>
<text x="194.7" y="468.6" font-size="23" font-weight="bold" font-style="italic" stroke="#000" stroke-width="0.6" stroke-linejoin="round">μ</text>
<text x="206.7" y="476.5" font-size="16" font-weight="bold" stroke="#000" stroke-width="0.6" stroke-linejoin="round">0</text>
<text x="215.5" y="468.5" font-size="25" font-weight="bold" font-style="italic" stroke="#000" stroke-width="0.6" stroke-linejoin="round">H</text>
<text x="241.09999999999997" y="468.5" font-size="23.5" font-weight="bold" stroke="#000" stroke-width="0.6" stroke-linejoin="round">(T)</text>
<text x="510" y="31.8" font-size="18.5" font-weight="bold" fill="#ff0000" stroke="#ff0000" stroke-width="0.6" stroke-linejoin="round"><tspan font-style="italic">P</tspan> (GPa) =</text>
<text x="608.8" y="31.8" font-size="18.5" fill="#ff0000" text-anchor="start" font-weight="bold" font-style="normal"  stroke="#ff0000" stroke-width="0.6" stroke-linejoin="round">0.5</text>
<text x="609.3" y="75.2" font-size="18.5" fill="#00ff00" text-anchor="start" font-weight="bold" font-style="normal"  stroke="#00ff00" stroke-width="0.6" stroke-linejoin="round">1.0</text>
<text x="609.3" y="105" font-size="18.5" fill="#0000ff" text-anchor="start" font-weight="bold" font-style="normal"  stroke="#0000ff" stroke-width="0.6" stroke-linejoin="round">1.3</text>
<text x="609.3" y="131.7" font-size="18.5" fill="#00ffff" text-anchor="start" font-weight="bold" font-style="normal"  stroke="#00ffff" stroke-width="0.6" stroke-linejoin="round">1.5</text>
<text x="610.3" y="159" font-size="18.5" fill="#ff00ff" text-anchor="start" font-weight="bold" font-style="normal"  stroke="#ff00ff" stroke-width="0.6" stroke-linejoin="round">1.7</text>
<text x="609.3" y="183.5" font-size="18.5" fill="#008080" text-anchor="start" font-weight="bold" font-style="normal"  stroke="#008080" stroke-width="0.6" stroke-linejoin="round">2.0</text>
<text x="609.3" y="231.7" font-size="18.5" fill="#808000" text-anchor="start" font-weight="bold" font-style="normal"  stroke="#808000" stroke-width="0.6" stroke-linejoin="round">2.1</text>
<text x="609.3" y="274" font-size="18.5" fill="#000080" text-anchor="start" font-weight="bold" font-style="normal"  stroke="#000080" stroke-width="0.6" stroke-linejoin="round">2.3</text>
<text x="609.9" y="350" font-size="18.5" fill="#ff8000" text-anchor="start" font-weight="bold" font-style="normal"  stroke="#ff8000" stroke-width="0.6" stroke-linejoin="round">2.4</text>
<line x1="484.1" y1="408.3" x2="484.1" y2="389.6" stroke="#ff0000" stroke-width="2" stroke-linecap="round"/>
<polygon points="484.1,380.6 480.85,390.1 487.35,390.1" fill="#ff0000"/>
<line x1="508.9" y1="408.5" x2="508.9" y2="389.6" stroke="#ff0000" stroke-width="2" stroke-linecap="round"/>
<polygon points="508.9,380.6 505.65,390.1 512.15,390.1" fill="#ff0000"/>
<text x="481" y="467" font-size="23" font-weight="bold" font-style="italic" stroke="#000" stroke-width="0.6" stroke-linejoin="round">μ</text>
<text x="493" y="474.9" font-size="16" font-weight="bold" stroke="#000" stroke-width="0.6" stroke-linejoin="round">0</text>
<text x="501.8" y="466.9" font-size="25" font-weight="bold" font-style="italic" stroke="#000" stroke-width="0.6" stroke-linejoin="round">H</text>
<text x="527.4" y="466.9" font-size="23.5" font-weight="bold" stroke="#000" stroke-width="0.6" stroke-linejoin="round">(T)</text>
<defs><clipPath id="cb"><rect x="79.2" y="478" width="591" height="412"/></clipPath></defs>
<g clip-path="url(#cb)">
<polygon points="85.50,483.50 87.85,489.26 94.06,489.72 89.30,493.74 90.79,499.78 85.50,496.50 80.21,499.78 81.70,493.74 76.94,489.72 83.15,489.26" fill="#ff0000"/>
<polygon points="85.50,538.30 87.85,544.06 94.06,544.52 89.30,548.54 90.79,554.58 85.50,551.30 80.21,554.58 81.70,548.54 76.94,544.52 83.15,544.06" fill="#ff0000"/>
<polygon points="85.50,567.70 87.85,573.46 94.06,573.92 89.30,577.94 90.79,583.98 85.50,580.70 80.21,583.98 81.70,577.94 76.94,573.92 83.15,573.46" fill="#ff0000"/>
<polygon points="85.50,576.20 87.85,581.96 94.06,582.42 89.30,586.44 90.79,592.48 85.50,589.20 80.21,592.48 81.70,586.44 76.94,582.42 83.15,581.96" fill="#ff0000"/>
<polygon points="85.50,591.30 87.85,597.06 94.06,597.52 89.30,601.54 90.79,607.58 85.50,604.30 80.21,607.58 81.70,601.54 76.94,597.52 83.15,597.06" fill="#ff0000"/>
<polygon points="85.50,604.20 87.85,609.96 94.06,610.42 89.30,614.44 90.79,620.48 85.50,617.20 80.21,620.48 81.70,614.44 76.94,610.42 83.15,609.96" fill="#ff0000"/>
<polygon points="85.50,630.20 87.85,635.96 94.06,636.42 89.30,640.44 90.79,646.48 85.50,643.20 80.21,646.48 81.70,640.44 76.94,636.42 83.15,635.96" fill="#ff0000"/>
<polygon points="201.80,605.30 204.15,611.06 210.36,611.52 205.60,615.54 207.09,621.58 201.80,618.30 196.51,621.58 198.00,615.54 193.24,611.52 199.45,611.06" fill="#ff0000"/>
<polygon points="201.80,616.90 204.15,622.66 210.36,623.12 205.60,627.14 207.09,633.18 201.80,629.90 196.51,633.18 198.00,627.14 193.24,623.12 199.45,622.66" fill="#ff0000"/>
<polygon points="201.80,629.30 204.15,635.06 210.36,635.52 205.60,639.54 207.09,645.58 201.80,642.30 196.51,645.58 198.00,639.54 193.24,635.52 199.45,635.06" fill="#ff0000"/>
<polygon points="201.80,654.85 204.15,660.61 210.36,661.07 205.60,665.09 207.09,671.13 201.80,667.85 196.51,671.13 198.00,665.09 193.24,661.07 199.45,660.61" fill="#ff0000"/>
<polygon points="318.60,640.10 320.95,645.86 327.16,646.32 322.40,650.34 323.89,656.38 318.60,653.10 313.31,656.38 314.80,650.34 310.04,646.32 316.25,645.86" fill="#ff0000"/>
<polygon points="318.60,656.90 320.95,662.66 327.16,663.12 322.40,667.14 323.89,673.18 318.60,669.90 313.31,673.18 314.80,667.14 310.04,663.12 316.25,662.66" fill="#ff0000"/>
<polygon points="318.60,680.50 320.95,686.26 327.16,686.72 322.40,690.74 323.89,696.78 318.60,693.50 313.31,696.78 314.80,690.74 310.04,686.72 316.25,686.26" fill="#ff0000"/>
<polygon points="342.00,513.30 344.35,519.06 350.56,519.52 345.80,523.54 347.29,529.58 342.00,526.30 336.71,529.58 338.20,523.54 333.44,519.52 339.65,519.06" fill="#ff0000"/>
<polygon points="342.00,563.00 344.35,568.76 350.56,569.22 345.80,573.24 347.29,579.28 342.00,576.00 336.71,579.28 338.20,573.24 333.44,569.22 339.65,568.76" fill="#ff0000"/>
<polygon points="342.00,644.30 344.35,650.06 350.56,650.52 345.80,654.54 347.29,660.58 342.00,657.30 336.71,660.58 338.20,654.54 333.44,650.52 339.65,650.06" fill="#ff0000"/>
<polygon points="342.00,657.30 344.35,663.06 350.56,663.52 345.80,667.54 347.29,673.58 342.00,670.30 336.71,673.58 338.20,667.54 333.44,663.52 339.65,663.06" fill="#ff0000"/>
<polygon points="342.00,682.60 344.35,688.36 350.56,688.82 345.80,692.84 347.29,698.88 342.00,695.60 336.71,698.88 338.20,692.84 333.44,688.82 339.65,688.36" fill="#ff0000"/>
<polygon points="388.50,649.40 390.85,655.16 397.06,655.62 392.30,659.64 393.79,665.68 388.50,662.40 383.21,665.68 384.70,659.64 379.94,655.62 386.15,655.16" fill="#ff0000"/>
<polygon points="388.50,666.70 390.85,672.46 397.06,672.92 392.30,676.94 393.79,682.98 388.50,679.70 383.21,682.98 384.70,676.94 379.94,672.92 386.15,672.46" fill="#ff0000"/>
<polygon points="388.50,695.30 390.85,701.06 397.06,701.52 392.30,705.54 393.79,711.58 388.50,708.30 383.21,711.58 384.70,705.54 379.94,701.52 386.15,701.06" fill="#ff0000"/>
<polygon points="481.80,621.20 484.15,626.96 490.36,627.42 485.60,631.44 487.09,637.48 481.80,634.20 476.51,637.48 478.00,631.44 473.24,627.42 479.45,626.96" fill="#ff0000"/>
<polygon points="481.80,662.50 484.15,668.26 490.36,668.72 485.60,672.74 487.09,678.78 481.80,675.50 476.51,678.78 478.00,672.74 473.24,668.72 479.45,668.26" fill="#ff0000"/>
<polygon points="481.80,677.80 484.15,683.56 490.36,684.02 485.60,688.04 487.09,694.08 481.80,690.80 476.51,694.08 478.00,688.04 473.24,684.02 479.45,683.56" fill="#ff0000"/>
<polygon points="481.80,712.40 484.15,718.16 490.36,718.62 485.60,722.64 487.09,728.68 481.80,725.40 476.51,728.68 478.00,722.64 473.24,718.62 479.45,718.16" fill="#ff0000"/>
<polygon points="528.60,512.30 530.95,518.06 537.16,518.52 532.40,522.54 533.89,528.58 528.60,525.30 523.31,528.58 524.80,522.54 520.04,518.52 526.25,518.06" fill="#ff0000"/>
<polygon points="528.60,584.50 530.95,590.26 537.16,590.72 532.40,594.74 533.89,600.78 528.60,597.50 523.31,600.78 524.80,594.74 520.04,590.72 526.25,590.26" fill="#ff0000"/>
<polygon points="528.60,631.90 530.95,637.66 537.16,638.12 532.40,642.14 533.89,648.18 528.60,644.90 523.31,648.18 524.80,642.14 520.04,638.12 526.25,637.66" fill="#ff0000"/>
<polygon points="528.60,666.00 530.95,671.76 537.16,672.22 532.40,676.24 533.89,682.28 528.60,679.00 523.31,682.28 524.80,676.24 520.04,672.22 526.25,671.76" fill="#ff0000"/>
<polygon points="528.60,704.30 530.95,710.06 537.16,710.52 532.40,714.54 533.89,720.58 528.60,717.30 523.31,720.58 524.80,714.54 520.04,710.52 526.25,710.06" fill="#ff0000"/>
<polygon points="528.60,818.90 530.95,824.66 537.16,825.12 532.40,829.14 533.89,835.18 528.60,831.90 523.31,835.18 524.80,829.14 520.04,825.12 526.25,824.66" fill="#ff0000"/>
<polygon points="552.00,821.70 554.35,827.46 560.56,827.92 555.80,831.94 557.29,837.98 552.00,834.70 546.71,837.98 548.20,831.94 543.44,827.92 549.65,827.46" fill="#ff0000"/>
<polygon points="575.20,822.10 577.55,827.86 583.76,828.32 579.00,832.34 580.49,838.38 575.20,835.10 569.91,838.38 571.40,832.34 566.64,828.32 572.85,827.86" fill="#ff0000"/>
<polygon points="622.00,515.80 624.35,521.56 630.56,522.02 625.80,526.04 627.29,532.08 622.00,528.80 616.71,532.08 618.20,526.04 613.44,522.02 619.65,521.56" fill="#ff0000"/>
<polygon points="622.00,591.30 624.35,597.06 630.56,597.52 625.80,601.54 627.29,607.58 622.00,604.30 616.71,607.58 618.20,601.54 613.44,597.52 619.65,597.06" fill="#ff0000"/>
<polygon points="622.00,712.40 624.35,718.16 630.56,718.62 625.80,722.64 627.29,728.68 622.00,725.40 616.71,728.68 618.20,722.64 613.44,718.62 619.65,718.16" fill="#ff0000"/>
<polygon points="622.00,822.40 624.35,828.16 630.56,828.62 625.80,832.64 627.29,838.68 622.00,835.40 616.71,838.68 618.20,832.64 613.44,828.62 619.65,828.16" fill="#ff0000"/>
<polygon points="645.30,824.70 647.65,830.46 653.86,830.92 649.10,834.94 650.59,840.98 645.30,837.70 640.01,840.98 641.50,834.94 636.74,830.92 642.95,830.46" fill="#ff0000"/>
<polygon points="622.00,816.80 623.94,821.53 629.04,821.91 625.14,825.22 626.35,830.19 622.00,827.50 617.65,830.19 618.86,825.22 614.96,821.91 620.06,821.53" fill="#fff" stroke="#ff0000" stroke-width="1.9" stroke-linejoin="round"/>
<polygon points="645.30,818.90 647.24,823.63 652.34,824.01 648.44,827.32 649.65,832.29 645.30,829.60 640.95,832.29 642.16,827.32 638.26,824.01 643.36,823.63" fill="#fff" stroke="#ff0000" stroke-width="1.9" stroke-linejoin="round"/>
<circle cx="85.3" cy="492.9" r="6.2" fill="#0000ff"/>
<circle cx="85.3" cy="555.4" r="6.2" fill="#0000ff"/>
<circle cx="85.3" cy="612.7" r="6.2" fill="#0000ff"/>
<rect x="82.0" y="483.40000000000003" width="6.8" height="6.4" fill="#00ffff"/>
<rect x="82.0" y="549.6999999999999" width="6.8" height="6.4" fill="#00ffff"/>
<rect x="82.0" y="616.3" width="6.8" height="6.4" fill="#00ffff"/>
</g>
<text x="106.1" y="509.5" font-size="24.5" font-weight="bold" font-style="italic" stroke="#000" stroke-width="0.6" stroke-linejoin="round">H</text>
<text x="123.2" y="518.1" font-size="14.5" font-weight="bold" stroke="#000" stroke-width="0.6" stroke-linejoin="round">7</text>
<text x="107.1" y="540" font-size="24.5" font-weight="bold" font-style="italic" stroke="#000" stroke-width="0.6" stroke-linejoin="round">H</text>
<text x="124" y="549" font-size="14.5" font-weight="bold" stroke="#000" stroke-width="0.6" stroke-linejoin="round">6</text>
<text x="106.1" y="562.9" font-size="24.5" font-weight="bold" font-style="italic" stroke="#000" stroke-width="0.6" stroke-linejoin="round">H</text>
<text x="123.5" y="571.5" font-size="14.5" font-weight="bold" stroke="#000" stroke-width="0.6" stroke-linejoin="round">5</text>
<text x="105.25" y="580.6" font-size="24.5" font-weight="bold" font-style="italic" stroke="#000" stroke-width="0.6" stroke-linejoin="round">H</text>
<text x="122" y="589.5" font-size="14.5" font-weight="bold" stroke="#000" stroke-width="0.6" stroke-linejoin="round">4</text>
<text x="104.75" y="604.8" font-size="24.5" font-weight="bold" font-style="italic" stroke="#000" stroke-width="0.6" stroke-linejoin="round">H</text>
<text x="122" y="613.6" font-size="14.5" font-weight="bold" stroke="#000" stroke-width="0.6" stroke-linejoin="round">3</text>
<text x="104.75" y="627.4" font-size="24.5" font-weight="bold" font-style="italic" stroke="#000" stroke-width="0.6" stroke-linejoin="round">H</text>
<text x="121.3" y="635.9" font-size="14.5" font-weight="bold" stroke="#000" stroke-width="0.6" stroke-linejoin="round">2</text>
<text x="105.9" y="663.1" font-size="24.5" font-weight="bold" font-style="italic" stroke="#000" stroke-width="0.6" stroke-linejoin="round">H</text>
<text x="123.4" y="671.25" font-size="14.5" font-weight="bold" stroke="#000" stroke-width="0.6" stroke-linejoin="round">1</text>
<text x="444" y="833.7" font-size="24" font-weight="bold" font-style="italic" stroke="#000" stroke-width="0.6" stroke-linejoin="round">H</text>
<text x="461" y="842.3" font-size="14.5" font-weight="bold" stroke="#000" stroke-width="0.6" stroke-linejoin="round">0</text>
<text x="123.4" y="818.4" font-size="24.5" font-weight="bold" stroke="#000" stroke-width="0.6" stroke-linejoin="round">SrCu</text>
<text x="181" y="826.3" font-size="16.5" font-weight="bold" stroke="#000" stroke-width="0.6" stroke-linejoin="round">2</text>
<text x="190.2" y="817.8" font-size="24" font-weight="bold" stroke="#000" stroke-width="0.6" stroke-linejoin="round">(BO</text>
<text x="233.8" y="826.3" font-size="16.5" font-weight="bold" stroke="#000" stroke-width="0.6" stroke-linejoin="round">3</text>
<text x="243.1" y="817.8" font-size="24" font-weight="bold" stroke="#000" stroke-width="0.6" stroke-linejoin="round">)</text>
<text x="249" y="826.5" font-size="16.5" font-weight="bold" stroke="#000" stroke-width="0.6" stroke-linejoin="round">2</text>
<text x="125" y="858.7" font-size="24.5" font-weight="bold" stroke="#000" stroke-width="0.6" stroke-linejoin="round">0.3 K</text>
<text x="308" y="956" font-size="24.5" font-weight="bold" stroke="#000" stroke-width="0.6" stroke-linejoin="round"><tspan font-style="italic">P</tspan> (GPa)</text>
<g transform="translate(24.3,740.6) rotate(-90)"><text x="-1" y="0" font-size="22" font-weight="bold" stroke="#000" stroke-width="0.6" stroke-linejoin="round">μ</text><text x="12.4" y="8.3" font-size="13" font-weight="bold" stroke="#000" stroke-width="0.6" stroke-linejoin="round">0</text><text x="20.9" y="0" font-size="25" font-weight="bold" font-style="italic" stroke="#000" stroke-width="0.6" stroke-linejoin="round">H</text><text x="45.9" y="0" font-size="23.5" font-weight="bold" stroke="#000" stroke-width="0.6" stroke-linejoin="round">(T)</text></g>
</svg></body></html>
